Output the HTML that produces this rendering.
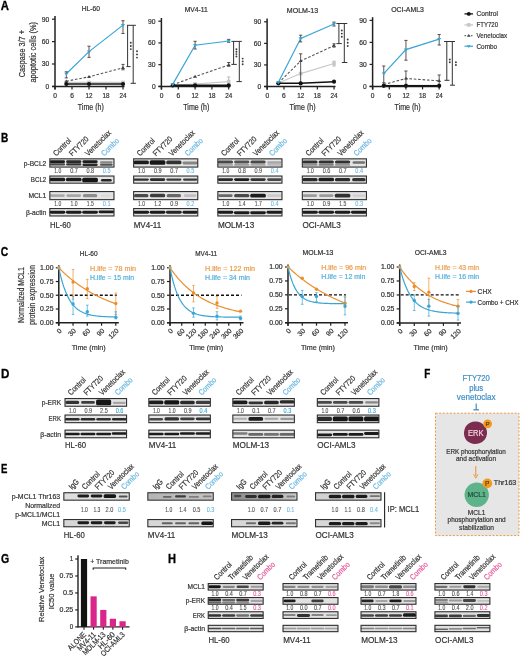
<!DOCTYPE html>
<html><head><meta charset="utf-8"><style>
html,body{margin:0;padding:0;background:#fff;}
svg{display:block;will-change:transform;}
text{font-family:"Liberation Sans",sans-serif;}
</style></head><body>
<svg width="520" height="661" viewBox="0 0 520 661">
<defs><linearGradient id="gE2" x1="0" x2="1" y1="0" y2="0"><stop offset="0" stop-color="#8e8e8e"/><stop offset="0.55" stop-color="#a4a4a4"/><stop offset="1" stop-color="#cfcfcf"/></linearGradient>
<linearGradient id="gE1" x1="0" x2="1" y1="0" y2="0"><stop offset="0" stop-color="#b4b4b4"/><stop offset="1" stop-color="#c4c4c4"/></linearGradient>
<filter id="bb" x="-20%" y="-50%" width="140%" height="200%"><feGaussianBlur stdDeviation="0.75"/></filter></defs>
<rect width="520" height="661" fill="#fff"/>
<text x="0.8" y="10.4" font-size="12" fill="#000" font-weight="bold" textLength="8.2" lengthAdjust="spacingAndGlyphs" stroke="#000" stroke-width="0.3">A</text>
<text x="25.4" y="53.7" font-size="8.3" fill="#333132" text-anchor="middle" textLength="47.2" lengthAdjust="spacingAndGlyphs" transform="rotate(-90 25.4 53.7)" stroke="#333132" stroke-width="0.2">Caspase 3/7 +</text>
<text x="35.6" y="52.3" font-size="8.3" fill="#333132" text-anchor="middle" textLength="60.5" lengthAdjust="spacingAndGlyphs" transform="rotate(-90 35.6 52.3)" stroke="#333132" stroke-width="0.2">apoptotic cells (%)</text>
<line x1="55" y1="16" x2="55" y2="89.6" stroke="#231f20" stroke-width="1.5"/>
<line x1="52" y1="86.4" x2="124.49" y2="86.4" stroke="#231f20" stroke-width="1.5"/>
<line x1="52" y1="86.4" x2="55" y2="86.4" stroke="#231f20" stroke-width="1.2"/>
<text x="49.2" y="88.8" font-size="6.7" fill="#333132" text-anchor="end" textLength="3.7" lengthAdjust="spacingAndGlyphs" stroke="#333132" stroke-width="0.2">0</text>
<line x1="52" y1="64" x2="55" y2="64" stroke="#231f20" stroke-width="1.2"/>
<text x="49.2" y="66.4" font-size="6.7" fill="#333132" text-anchor="end" textLength="7.5" lengthAdjust="spacingAndGlyphs" stroke="#333132" stroke-width="0.2">30</text>
<line x1="52" y1="41.6" x2="55" y2="41.6" stroke="#231f20" stroke-width="1.2"/>
<text x="49.2" y="44" font-size="6.7" fill="#333132" text-anchor="end" textLength="7.5" lengthAdjust="spacingAndGlyphs" stroke="#333132" stroke-width="0.2">60</text>
<line x1="52" y1="19.2" x2="55" y2="19.2" stroke="#231f20" stroke-width="1.2"/>
<text x="49.2" y="21.6" font-size="6.7" fill="#333132" text-anchor="end" textLength="7.5" lengthAdjust="spacingAndGlyphs" stroke="#333132" stroke-width="0.2">90</text>
<line x1="55" y1="86.4" x2="55" y2="89.4" stroke="#231f20" stroke-width="1.2"/>
<text x="55" y="97.9" font-size="6.6" fill="#333132" text-anchor="middle" textLength="3.7" lengthAdjust="spacingAndGlyphs" stroke="#333132" stroke-width="0.2">0</text>
<line x1="72" y1="86.4" x2="72" y2="89.4" stroke="#231f20" stroke-width="1.2"/>
<text x="72" y="97.9" font-size="6.6" fill="#333132" text-anchor="middle" textLength="3.7" lengthAdjust="spacingAndGlyphs" stroke="#333132" stroke-width="0.2">6</text>
<line x1="89" y1="86.4" x2="89" y2="89.4" stroke="#231f20" stroke-width="1.2"/>
<text x="89" y="97.9" font-size="6.6" fill="#333132" text-anchor="middle" textLength="7" lengthAdjust="spacingAndGlyphs" stroke="#333132" stroke-width="0.2">12</text>
<line x1="105.99" y1="86.4" x2="105.99" y2="89.4" stroke="#231f20" stroke-width="1.2"/>
<text x="105.99" y="97.9" font-size="6.6" fill="#333132" text-anchor="middle" textLength="7" lengthAdjust="spacingAndGlyphs" stroke="#333132" stroke-width="0.2">18</text>
<line x1="122.99" y1="86.4" x2="122.99" y2="89.4" stroke="#231f20" stroke-width="1.2"/>
<text x="122.99" y="97.9" font-size="6.6" fill="#333132" text-anchor="middle" textLength="7" lengthAdjust="spacingAndGlyphs" stroke="#333132" stroke-width="0.2">24</text>
<text x="90.8" y="109.6" font-size="8.2" fill="#333132" text-anchor="middle" textLength="26" lengthAdjust="spacingAndGlyphs" stroke="#333132" stroke-width="0.2">Time (h)</text>
<text x="90.8" y="10.6" font-size="6.9" fill="#333132" text-anchor="middle" textLength="18.2" lengthAdjust="spacingAndGlyphs" stroke="#333132" stroke-width="0.2">HL-60</text>
<polyline points="66.33,82.4 89,82.4 122.99,82.4" fill="none" stroke="#c8c8c8" stroke-width="1.1"/>
<rect x="64.53" y="80.6" width="3.6" height="3.6" fill="#c8c8c8"/>
<rect x="87.2" y="80.6" width="3.6" height="3.6" fill="#c8c8c8"/>
<rect x="121.19" y="80.6" width="3.6" height="3.6" fill="#c8c8c8"/>
<polyline points="66.33,81.2 89,76.8 122.99,67.8" fill="none" stroke="#555" stroke-width="1.1" stroke-dasharray="2.6 1.8"/>
<path d="M64.33 82.28L68.33 82.28L66.33 79.4Z" fill="#444"/>
<path d="M87 77.88L91 77.88L89 75Z" fill="#444"/>
<line x1="122.99" y1="64.4" x2="122.99" y2="69.8" stroke="#444" stroke-width="0.9"/>
<line x1="121.39" y1="64.4" x2="124.59" y2="64.4" stroke="#444" stroke-width="0.9"/>
<line x1="121.39" y1="69.8" x2="124.59" y2="69.8" stroke="#444" stroke-width="0.9"/>
<path d="M120.99 68.88L124.99 68.88L122.99 66Z" fill="#444"/>
<polyline points="66.33,84 89,84 122.99,84" fill="none" stroke="#111" stroke-width="1.6"/>
<circle cx="66.33" cy="84" r="2.1" fill="#111"/>
<circle cx="89" cy="84" r="2.1" fill="#111"/>
<circle cx="122.99" cy="84" r="2.1" fill="#111"/>
<polyline points="66.33,73.8 89,51.6 122.99,25.1" fill="none" stroke="#3aa5d5" stroke-width="1.2"/>
<line x1="66.33" y1="71.8" x2="66.33" y2="77.9" stroke="#4a4040" stroke-width="0.9"/>
<line x1="64.73" y1="71.8" x2="67.93" y2="71.8" stroke="#4a4040" stroke-width="0.9"/>
<line x1="64.73" y1="77.9" x2="67.93" y2="77.9" stroke="#4a4040" stroke-width="0.9"/>
<path d="M64.23 72.67L68.43 72.67L66.33 75.69Z" fill="#3aa5d5"/>
<line x1="89" y1="46.2" x2="89" y2="57.4" stroke="#4a4040" stroke-width="0.9"/>
<line x1="87.4" y1="46.2" x2="90.6" y2="46.2" stroke="#4a4040" stroke-width="0.9"/>
<line x1="87.4" y1="57.4" x2="90.6" y2="57.4" stroke="#4a4040" stroke-width="0.9"/>
<path d="M86.9 50.47L91.1 50.47L89 53.49Z" fill="#3aa5d5"/>
<line x1="122.99" y1="20.7" x2="122.99" y2="33.5" stroke="#4a4040" stroke-width="0.9"/>
<line x1="121.39" y1="20.7" x2="124.59" y2="20.7" stroke="#4a4040" stroke-width="0.9"/>
<line x1="121.39" y1="33.5" x2="124.59" y2="33.5" stroke="#4a4040" stroke-width="0.9"/>
<path d="M120.89 23.97L125.09 23.97L122.99 26.99Z" fill="#3aa5d5"/>
<line x1="126.9" y1="25.3" x2="135.9" y2="25.3" stroke="#333" stroke-width="1"/>
<line x1="127.6" y1="25.3" x2="127.6" y2="66.6" stroke="#333" stroke-width="1"/>
<line x1="126.4" y1="66.6" x2="130.6" y2="66.6" stroke="#333" stroke-width="1"/>
<circle cx="130.8" cy="42.8" r="0.95" fill="#3a3a3a"/>
<circle cx="130.8" cy="46" r="0.95" fill="#3a3a3a"/>
<circle cx="130.8" cy="49.1" r="0.95" fill="#3a3a3a"/>
<line x1="133.2" y1="25.3" x2="133.2" y2="83.3" stroke="#333" stroke-width="1"/>
<line x1="130.6" y1="83.3" x2="135.9" y2="83.3" stroke="#333" stroke-width="1"/>
<circle cx="137" cy="51.2" r="0.95" fill="#3a3a3a"/>
<circle cx="137" cy="54.4" r="0.95" fill="#3a3a3a"/>
<circle cx="137" cy="57.6" r="0.95" fill="#3a3a3a"/>
<line x1="161.4" y1="18" x2="161.4" y2="89.6" stroke="#231f20" stroke-width="1.5"/>
<line x1="158.4" y1="86.4" x2="230.2" y2="86.4" stroke="#231f20" stroke-width="1.5"/>
<line x1="158.4" y1="86.4" x2="161.4" y2="86.4" stroke="#231f20" stroke-width="1.2"/>
<text x="155.6" y="88.8" font-size="6.7" fill="#333132" text-anchor="end" textLength="3.7" lengthAdjust="spacingAndGlyphs" stroke="#333132" stroke-width="0.2">0</text>
<line x1="158.4" y1="64.67" x2="161.4" y2="64.67" stroke="#231f20" stroke-width="1.2"/>
<text x="155.6" y="67.07" font-size="6.7" fill="#333132" text-anchor="end" textLength="7.5" lengthAdjust="spacingAndGlyphs" stroke="#333132" stroke-width="0.2">30</text>
<line x1="158.4" y1="42.93" x2="161.4" y2="42.93" stroke="#231f20" stroke-width="1.2"/>
<text x="155.6" y="45.33" font-size="6.7" fill="#333132" text-anchor="end" textLength="7.5" lengthAdjust="spacingAndGlyphs" stroke="#333132" stroke-width="0.2">60</text>
<line x1="158.4" y1="21.2" x2="161.4" y2="21.2" stroke="#231f20" stroke-width="1.2"/>
<text x="155.6" y="23.6" font-size="6.7" fill="#333132" text-anchor="end" textLength="7.5" lengthAdjust="spacingAndGlyphs" stroke="#333132" stroke-width="0.2">90</text>
<line x1="161.5" y1="86.4" x2="161.5" y2="89.4" stroke="#231f20" stroke-width="1.2"/>
<text x="161.5" y="97.9" font-size="6.6" fill="#333132" text-anchor="middle" textLength="3.7" lengthAdjust="spacingAndGlyphs" stroke="#333132" stroke-width="0.2">0</text>
<line x1="178.3" y1="86.4" x2="178.3" y2="89.4" stroke="#231f20" stroke-width="1.2"/>
<text x="178.3" y="97.9" font-size="6.6" fill="#333132" text-anchor="middle" textLength="3.7" lengthAdjust="spacingAndGlyphs" stroke="#333132" stroke-width="0.2">6</text>
<line x1="195.1" y1="86.4" x2="195.1" y2="89.4" stroke="#231f20" stroke-width="1.2"/>
<text x="195.1" y="97.9" font-size="6.6" fill="#333132" text-anchor="middle" textLength="7" lengthAdjust="spacingAndGlyphs" stroke="#333132" stroke-width="0.2">12</text>
<line x1="211.9" y1="86.4" x2="211.9" y2="89.4" stroke="#231f20" stroke-width="1.2"/>
<text x="211.9" y="97.9" font-size="6.6" fill="#333132" text-anchor="middle" textLength="7" lengthAdjust="spacingAndGlyphs" stroke="#333132" stroke-width="0.2">18</text>
<line x1="228.7" y1="86.4" x2="228.7" y2="89.4" stroke="#231f20" stroke-width="1.2"/>
<text x="228.7" y="97.9" font-size="6.6" fill="#333132" text-anchor="middle" textLength="7" lengthAdjust="spacingAndGlyphs" stroke="#333132" stroke-width="0.2">24</text>
<text x="196.3" y="109.6" font-size="8.2" fill="#333132" text-anchor="middle" textLength="26" lengthAdjust="spacingAndGlyphs" stroke="#333132" stroke-width="0.2">Time (h)</text>
<text x="196.3" y="12.3" font-size="6.9" fill="#333132" text-anchor="middle" textLength="23.2" lengthAdjust="spacingAndGlyphs" stroke="#333132" stroke-width="0.2">MV4-11</text>
<polyline points="172.7,85 195.1,84 228.7,81.6" fill="none" stroke="#c8c8c8" stroke-width="1.1"/>
<rect x="170.9" y="83.2" width="3.6" height="3.6" fill="#c8c8c8"/>
<rect x="193.3" y="82.2" width="3.6" height="3.6" fill="#c8c8c8"/>
<line x1="228.7" y1="77" x2="228.7" y2="84.6" stroke="#b0b0b0" stroke-width="0.9"/>
<line x1="227.1" y1="77" x2="230.3" y2="77" stroke="#b0b0b0" stroke-width="0.9"/>
<line x1="227.1" y1="84.6" x2="230.3" y2="84.6" stroke="#b0b0b0" stroke-width="0.9"/>
<rect x="226.9" y="79.8" width="3.6" height="3.6" fill="#c8c8c8"/>
<polyline points="172.7,84.8 195.1,76.6 228.7,65" fill="none" stroke="#555" stroke-width="1.1" stroke-dasharray="2.6 1.8"/>
<path d="M170.7 85.88L174.7 85.88L172.7 83Z" fill="#444"/>
<path d="M193.1 77.68L197.1 77.68L195.1 74.8Z" fill="#444"/>
<line x1="228.7" y1="62.5" x2="228.7" y2="66.3" stroke="#444" stroke-width="0.9"/>
<line x1="227.1" y1="62.5" x2="230.3" y2="62.5" stroke="#444" stroke-width="0.9"/>
<line x1="227.1" y1="66.3" x2="230.3" y2="66.3" stroke="#444" stroke-width="0.9"/>
<path d="M226.7 66.08L230.7 66.08L228.7 63.2Z" fill="#444"/>
<polyline points="172.7,85.4 195.1,85.4 228.7,85.4" fill="none" stroke="#111" stroke-width="1.6"/>
<circle cx="172.7" cy="85.4" r="2.1" fill="#111"/>
<circle cx="195.1" cy="85.4" r="2.1" fill="#111"/>
<circle cx="228.7" cy="85.4" r="2.1" fill="#111"/>
<polyline points="172.7,84.4 195.1,45.2 228.7,41" fill="none" stroke="#3aa5d5" stroke-width="1.2"/>
<path d="M170.6 83.27L174.8 83.27L172.7 86.29Z" fill="#3aa5d5"/>
<line x1="195.1" y1="41.3" x2="195.1" y2="49" stroke="#4a4040" stroke-width="0.9"/>
<line x1="193.5" y1="41.3" x2="196.7" y2="41.3" stroke="#4a4040" stroke-width="0.9"/>
<line x1="193.5" y1="49" x2="196.7" y2="49" stroke="#4a4040" stroke-width="0.9"/>
<path d="M193 44.07L197.2 44.07L195.1 47.09Z" fill="#3aa5d5"/>
<line x1="228.7" y1="39.4" x2="228.7" y2="42.3" stroke="#4a4040" stroke-width="0.9"/>
<line x1="227.1" y1="39.4" x2="230.3" y2="39.4" stroke="#4a4040" stroke-width="0.9"/>
<line x1="227.1" y1="42.3" x2="230.3" y2="42.3" stroke="#4a4040" stroke-width="0.9"/>
<path d="M226.6 39.87L230.8 39.87L228.7 42.89Z" fill="#3aa5d5"/>
<line x1="231.4" y1="41.4" x2="241.8" y2="41.4" stroke="#333" stroke-width="1"/>
<line x1="233.6" y1="41.4" x2="233.6" y2="64.4" stroke="#333" stroke-width="1"/>
<line x1="231.4" y1="64.4" x2="236.8" y2="64.4" stroke="#333" stroke-width="1"/>
<circle cx="236.4" cy="49.3" r="0.95" fill="#3a3a3a"/>
<circle cx="236.4" cy="51.7" r="0.95" fill="#3a3a3a"/>
<circle cx="236.4" cy="54.1" r="0.95" fill="#3a3a3a"/>
<circle cx="236.4" cy="56.5" r="0.95" fill="#3a3a3a"/>
<line x1="239.3" y1="41.4" x2="239.3" y2="81.6" stroke="#333" stroke-width="1"/>
<line x1="236.4" y1="81.6" x2="241.8" y2="81.6" stroke="#333" stroke-width="1"/>
<circle cx="242.7" cy="58.6" r="0.95" fill="#3a3a3a"/>
<circle cx="242.7" cy="61.4" r="0.95" fill="#3a3a3a"/>
<circle cx="242.7" cy="64.2" r="0.95" fill="#3a3a3a"/>
<line x1="267.1" y1="18.6" x2="267.1" y2="89.7" stroke="#231f20" stroke-width="1.5"/>
<line x1="264.1" y1="86.5" x2="335.52" y2="86.5" stroke="#231f20" stroke-width="1.5"/>
<line x1="264.1" y1="86.5" x2="267.1" y2="86.5" stroke="#231f20" stroke-width="1.2"/>
<text x="261.3" y="88.9" font-size="6.7" fill="#333132" text-anchor="end" textLength="3.7" lengthAdjust="spacingAndGlyphs" stroke="#333132" stroke-width="0.2">0</text>
<line x1="264.1" y1="64.93" x2="267.1" y2="64.93" stroke="#231f20" stroke-width="1.2"/>
<text x="261.3" y="67.33" font-size="6.7" fill="#333132" text-anchor="end" textLength="7.5" lengthAdjust="spacingAndGlyphs" stroke="#333132" stroke-width="0.2">30</text>
<line x1="264.1" y1="43.37" x2="267.1" y2="43.37" stroke="#231f20" stroke-width="1.2"/>
<text x="261.3" y="45.77" font-size="6.7" fill="#333132" text-anchor="end" textLength="7.5" lengthAdjust="spacingAndGlyphs" stroke="#333132" stroke-width="0.2">60</text>
<line x1="264.1" y1="21.8" x2="267.1" y2="21.8" stroke="#231f20" stroke-width="1.2"/>
<text x="261.3" y="24.2" font-size="6.7" fill="#333132" text-anchor="end" textLength="7.5" lengthAdjust="spacingAndGlyphs" stroke="#333132" stroke-width="0.2">90</text>
<line x1="267.3" y1="86.5" x2="267.3" y2="89.5" stroke="#231f20" stroke-width="1.2"/>
<text x="267.3" y="98" font-size="6.6" fill="#333132" text-anchor="middle" textLength="3.7" lengthAdjust="spacingAndGlyphs" stroke="#333132" stroke-width="0.2">0</text>
<line x1="283.98" y1="86.5" x2="283.98" y2="89.5" stroke="#231f20" stroke-width="1.2"/>
<text x="283.98" y="98" font-size="6.6" fill="#333132" text-anchor="middle" textLength="3.7" lengthAdjust="spacingAndGlyphs" stroke="#333132" stroke-width="0.2">6</text>
<line x1="300.66" y1="86.5" x2="300.66" y2="89.5" stroke="#231f20" stroke-width="1.2"/>
<text x="300.66" y="98" font-size="6.6" fill="#333132" text-anchor="middle" textLength="7" lengthAdjust="spacingAndGlyphs" stroke="#333132" stroke-width="0.2">12</text>
<line x1="317.34" y1="86.5" x2="317.34" y2="89.5" stroke="#231f20" stroke-width="1.2"/>
<text x="317.34" y="98" font-size="6.6" fill="#333132" text-anchor="middle" textLength="7" lengthAdjust="spacingAndGlyphs" stroke="#333132" stroke-width="0.2">18</text>
<line x1="334.02" y1="86.5" x2="334.02" y2="89.5" stroke="#231f20" stroke-width="1.2"/>
<text x="334.02" y="98" font-size="6.6" fill="#333132" text-anchor="middle" textLength="7" lengthAdjust="spacingAndGlyphs" stroke="#333132" stroke-width="0.2">24</text>
<text x="302.5" y="109.7" font-size="8.2" fill="#333132" text-anchor="middle" textLength="26" lengthAdjust="spacingAndGlyphs" stroke="#333132" stroke-width="0.2">Time (h)</text>
<text x="302.5" y="12.6" font-size="6.9" fill="#333132" text-anchor="middle" textLength="31.4" lengthAdjust="spacingAndGlyphs" stroke="#333132" stroke-width="0.2">MOLM-13</text>
<polyline points="278.42,83 300.66,73.6 334.02,63.5" fill="none" stroke="#c8c8c8" stroke-width="1.1"/>
<rect x="276.62" y="81.2" width="3.6" height="3.6" fill="#c8c8c8"/>
<rect x="298.86" y="71.8" width="3.6" height="3.6" fill="#c8c8c8"/>
<line x1="334.02" y1="61.2" x2="334.02" y2="66" stroke="#b0b0b0" stroke-width="0.9"/>
<line x1="332.42" y1="61.2" x2="335.62" y2="61.2" stroke="#b0b0b0" stroke-width="0.9"/>
<line x1="332.42" y1="66" x2="335.62" y2="66" stroke="#b0b0b0" stroke-width="0.9"/>
<rect x="332.22" y="61.7" width="3.6" height="3.6" fill="#c8c8c8"/>
<polyline points="278.42,83 300.66,61 334.02,45.6" fill="none" stroke="#555" stroke-width="1.1" stroke-dasharray="2.6 1.8"/>
<path d="M276.42 84.08L280.42 84.08L278.42 81.2Z" fill="#444"/>
<line x1="300.66" y1="53.8" x2="300.66" y2="84.6" stroke="#444" stroke-width="0.9"/>
<line x1="299.06" y1="53.8" x2="302.26" y2="53.8" stroke="#444" stroke-width="0.9"/>
<line x1="299.06" y1="84.6" x2="302.26" y2="84.6" stroke="#444" stroke-width="0.9"/>
<path d="M298.66 62.08L302.66 62.08L300.66 59.2Z" fill="#444"/>
<line x1="334.02" y1="43.8" x2="334.02" y2="47.1" stroke="#444" stroke-width="0.9"/>
<line x1="332.42" y1="43.8" x2="335.62" y2="43.8" stroke="#444" stroke-width="0.9"/>
<line x1="332.42" y1="47.1" x2="335.62" y2="47.1" stroke="#444" stroke-width="0.9"/>
<path d="M332.02 46.68L336.02 46.68L334.02 43.8Z" fill="#444"/>
<polyline points="278.42,83.3 300.66,83.3 334.02,81.7" fill="none" stroke="#111" stroke-width="1.6"/>
<circle cx="278.42" cy="83.3" r="2.1" fill="#111"/>
<circle cx="300.66" cy="83.3" r="2.1" fill="#111"/>
<circle cx="334.02" cy="81.7" r="2.1" fill="#111"/>
<polyline points="278.42,82.3 300.66,38.5 334.02,24" fill="none" stroke="#3aa5d5" stroke-width="1.2"/>
<path d="M276.32 81.17L280.52 81.17L278.42 84.19Z" fill="#3aa5d5"/>
<line x1="300.66" y1="35.2" x2="300.66" y2="41.9" stroke="#4a4040" stroke-width="0.9"/>
<line x1="299.06" y1="35.2" x2="302.26" y2="35.2" stroke="#4a4040" stroke-width="0.9"/>
<line x1="299.06" y1="41.9" x2="302.26" y2="41.9" stroke="#4a4040" stroke-width="0.9"/>
<path d="M298.56 37.37L302.76 37.37L300.66 40.39Z" fill="#3aa5d5"/>
<line x1="334.02" y1="22.1" x2="334.02" y2="26" stroke="#4a4040" stroke-width="0.9"/>
<line x1="332.42" y1="22.1" x2="335.62" y2="22.1" stroke="#4a4040" stroke-width="0.9"/>
<line x1="332.42" y1="26" x2="335.62" y2="26" stroke="#4a4040" stroke-width="0.9"/>
<path d="M331.92 22.87L336.12 22.87L334.02 25.89Z" fill="#3aa5d5"/>
<line x1="336.4" y1="23.5" x2="347.3" y2="23.5" stroke="#333" stroke-width="1"/>
<line x1="338.9" y1="23.5" x2="338.9" y2="43.6" stroke="#333" stroke-width="1"/>
<line x1="336.4" y1="43.6" x2="341.8" y2="43.6" stroke="#333" stroke-width="1"/>
<circle cx="341.8" cy="30.5" r="0.95" fill="#3a3a3a"/>
<circle cx="341.8" cy="33.6" r="0.95" fill="#3a3a3a"/>
<circle cx="341.8" cy="36.8" r="0.95" fill="#3a3a3a"/>
<line x1="344.3" y1="23.5" x2="344.3" y2="62.5" stroke="#333" stroke-width="1"/>
<line x1="341.8" y1="62.5" x2="347.3" y2="62.5" stroke="#333" stroke-width="1"/>
<circle cx="347.7" cy="39.5" r="0.95" fill="#3a3a3a"/>
<circle cx="347.7" cy="42.7" r="0.95" fill="#3a3a3a"/>
<circle cx="347.7" cy="46" r="0.95" fill="#3a3a3a"/>
<line x1="372.6" y1="17.2" x2="372.6" y2="89.6" stroke="#231f20" stroke-width="1.5"/>
<line x1="369.6" y1="86.4" x2="440.68" y2="86.4" stroke="#231f20" stroke-width="1.5"/>
<line x1="369.6" y1="86.4" x2="372.6" y2="86.4" stroke="#231f20" stroke-width="1.2"/>
<text x="366.8" y="88.8" font-size="6.7" fill="#333132" text-anchor="end" textLength="3.7" lengthAdjust="spacingAndGlyphs" stroke="#333132" stroke-width="0.2">0</text>
<line x1="369.6" y1="64.4" x2="372.6" y2="64.4" stroke="#231f20" stroke-width="1.2"/>
<text x="366.8" y="66.8" font-size="6.7" fill="#333132" text-anchor="end" textLength="7.5" lengthAdjust="spacingAndGlyphs" stroke="#333132" stroke-width="0.2">30</text>
<line x1="369.6" y1="42.4" x2="372.6" y2="42.4" stroke="#231f20" stroke-width="1.2"/>
<text x="366.8" y="44.8" font-size="6.7" fill="#333132" text-anchor="end" textLength="7.5" lengthAdjust="spacingAndGlyphs" stroke="#333132" stroke-width="0.2">60</text>
<line x1="369.6" y1="20.4" x2="372.6" y2="20.4" stroke="#231f20" stroke-width="1.2"/>
<text x="366.8" y="22.8" font-size="6.7" fill="#333132" text-anchor="end" textLength="7.5" lengthAdjust="spacingAndGlyphs" stroke="#333132" stroke-width="0.2">90</text>
<line x1="372.7" y1="86.4" x2="372.7" y2="89.4" stroke="#231f20" stroke-width="1.2"/>
<text x="372.7" y="97.9" font-size="6.6" fill="#333132" text-anchor="middle" textLength="3.7" lengthAdjust="spacingAndGlyphs" stroke="#333132" stroke-width="0.2">0</text>
<line x1="389.32" y1="86.4" x2="389.32" y2="89.4" stroke="#231f20" stroke-width="1.2"/>
<text x="389.32" y="97.9" font-size="6.6" fill="#333132" text-anchor="middle" textLength="3.7" lengthAdjust="spacingAndGlyphs" stroke="#333132" stroke-width="0.2">6</text>
<line x1="405.94" y1="86.4" x2="405.94" y2="89.4" stroke="#231f20" stroke-width="1.2"/>
<text x="405.94" y="97.9" font-size="6.6" fill="#333132" text-anchor="middle" textLength="7" lengthAdjust="spacingAndGlyphs" stroke="#333132" stroke-width="0.2">12</text>
<line x1="422.56" y1="86.4" x2="422.56" y2="89.4" stroke="#231f20" stroke-width="1.2"/>
<text x="422.56" y="97.9" font-size="6.6" fill="#333132" text-anchor="middle" textLength="7" lengthAdjust="spacingAndGlyphs" stroke="#333132" stroke-width="0.2">18</text>
<line x1="439.18" y1="86.4" x2="439.18" y2="89.4" stroke="#231f20" stroke-width="1.2"/>
<text x="439.18" y="97.9" font-size="6.6" fill="#333132" text-anchor="middle" textLength="7" lengthAdjust="spacingAndGlyphs" stroke="#333132" stroke-width="0.2">24</text>
<text x="407.6" y="109.6" font-size="8.2" fill="#333132" text-anchor="middle" textLength="26" lengthAdjust="spacingAndGlyphs" stroke="#333132" stroke-width="0.2">Time (h)</text>
<text x="407.6" y="11.6" font-size="6.9" fill="#333132" text-anchor="middle" textLength="32.8" lengthAdjust="spacingAndGlyphs" stroke="#333132" stroke-width="0.2">OCI-AML3</text>
<polyline points="383.78,85.4 405.94,85.4 439.18,85.4" fill="none" stroke="#c8c8c8" stroke-width="1.1"/>
<rect x="381.98" y="83.6" width="3.6" height="3.6" fill="#c8c8c8"/>
<rect x="404.14" y="83.6" width="3.6" height="3.6" fill="#c8c8c8"/>
<rect x="437.38" y="83.6" width="3.6" height="3.6" fill="#c8c8c8"/>
<polyline points="383.78,84.5 405.94,78.5 439.18,80.8" fill="none" stroke="#555" stroke-width="1.1" stroke-dasharray="2.6 1.8"/>
<path d="M381.78 85.58L385.78 85.58L383.78 82.7Z" fill="#444"/>
<line x1="405.94" y1="71" x2="405.94" y2="85.6" stroke="#444" stroke-width="0.9"/>
<line x1="404.34" y1="71" x2="407.54" y2="71" stroke="#444" stroke-width="0.9"/>
<line x1="404.34" y1="85.6" x2="407.54" y2="85.6" stroke="#444" stroke-width="0.9"/>
<path d="M403.94 79.58L407.94 79.58L405.94 76.7Z" fill="#444"/>
<line x1="439.18" y1="75" x2="439.18" y2="85.6" stroke="#444" stroke-width="0.9"/>
<line x1="437.58" y1="75" x2="440.78" y2="75" stroke="#444" stroke-width="0.9"/>
<line x1="437.58" y1="85.6" x2="440.78" y2="85.6" stroke="#444" stroke-width="0.9"/>
<path d="M437.18 81.88L441.18 81.88L439.18 79Z" fill="#444"/>
<polyline points="383.78,85.8 405.94,85.8 439.18,85.8" fill="none" stroke="#111" stroke-width="1.6"/>
<circle cx="383.78" cy="85.8" r="2.1" fill="#111"/>
<circle cx="405.94" cy="85.8" r="2.1" fill="#111"/>
<circle cx="439.18" cy="85.8" r="2.1" fill="#111"/>
<polyline points="383.78,73.7 405.94,49.6 439.18,39.1" fill="none" stroke="#3aa5d5" stroke-width="1.2"/>
<line x1="383.78" y1="66" x2="383.78" y2="82.7" stroke="#4a4040" stroke-width="0.9"/>
<line x1="382.18" y1="66" x2="385.38" y2="66" stroke="#4a4040" stroke-width="0.9"/>
<line x1="382.18" y1="82.7" x2="385.38" y2="82.7" stroke="#4a4040" stroke-width="0.9"/>
<path d="M381.68 72.57L385.88 72.57L383.78 75.59Z" fill="#3aa5d5"/>
<line x1="405.94" y1="40.4" x2="405.94" y2="60.2" stroke="#4a4040" stroke-width="0.9"/>
<line x1="404.34" y1="40.4" x2="407.54" y2="40.4" stroke="#4a4040" stroke-width="0.9"/>
<line x1="404.34" y1="60.2" x2="407.54" y2="60.2" stroke="#4a4040" stroke-width="0.9"/>
<path d="M403.84 48.47L408.04 48.47L405.94 51.49Z" fill="#3aa5d5"/>
<line x1="439.18" y1="34.5" x2="439.18" y2="45" stroke="#4a4040" stroke-width="0.9"/>
<line x1="437.58" y1="34.5" x2="440.78" y2="34.5" stroke="#4a4040" stroke-width="0.9"/>
<line x1="437.58" y1="45" x2="440.78" y2="45" stroke="#4a4040" stroke-width="0.9"/>
<path d="M437.08 37.97L441.28 37.97L439.18 40.99Z" fill="#3aa5d5"/>
<line x1="444.1" y1="41.5" x2="455" y2="41.5" stroke="#333" stroke-width="1"/>
<line x1="446.8" y1="41.5" x2="446.8" y2="80.3" stroke="#333" stroke-width="1"/>
<line x1="444.5" y1="80.3" x2="449.5" y2="80.3" stroke="#333" stroke-width="1"/>
<circle cx="449.8" cy="59.5" r="0.95" fill="#3a3a3a"/>
<circle cx="449.8" cy="62.3" r="0.95" fill="#3a3a3a"/>
<line x1="452.3" y1="41.5" x2="452.3" y2="85.2" stroke="#333" stroke-width="1"/>
<line x1="450" y1="85.2" x2="455" y2="85.2" stroke="#333" stroke-width="1"/>
<circle cx="455.9" cy="62.3" r="0.95" fill="#3a3a3a"/>
<circle cx="455.9" cy="65" r="0.95" fill="#3a3a3a"/>
<line x1="464.5" y1="13.9" x2="473" y2="13.9" stroke="#111" stroke-width="1.3"/>
<circle cx="468.8" cy="13.9" r="1.9" fill="#111"/>
<line x1="464.5" y1="24.9" x2="473" y2="24.9" stroke="#c8c8c8" stroke-width="1.3"/>
<rect x="467" y="23.1" width="3.6" height="3.6" fill="#c8c8c8"/>
<line x1="464.5" y1="35.7" x2="473" y2="35.7" stroke="#444" stroke-width="1" stroke-dasharray="1.6 1.6"/>
<path d="M467 36.67L470.6 36.67L468.8 34.08Z" fill="#444"/>
<line x1="464.5" y1="46.2" x2="473" y2="46.2" stroke="#3aa5d5" stroke-width="1.2"/>
<path d="M466.9 45.17L470.7 45.17L468.8 47.91Z" fill="#3aa5d5"/>
<text x="476.5" y="16.4" font-size="7.4" fill="#333132" textLength="21.5" lengthAdjust="spacingAndGlyphs" stroke="#333132" stroke-width="0.2">Control</text>
<text x="476.5" y="27.4" font-size="7.4" fill="#333132" textLength="21.5" lengthAdjust="spacingAndGlyphs" stroke="#333132" stroke-width="0.2">FTY720</text>
<text x="476.5" y="38.2" font-size="7.4" fill="#333132" textLength="30.7" lengthAdjust="spacingAndGlyphs" stroke="#333132" stroke-width="0.2">Venetoclax</text>
<text x="476.5" y="48.7" font-size="7.4" fill="#333132" textLength="20.5" lengthAdjust="spacingAndGlyphs" stroke="#333132" stroke-width="0.2">Combo</text>
<text x="1" y="142.3" font-size="12" fill="#000" font-weight="bold" textLength="7.3" lengthAdjust="spacingAndGlyphs" stroke="#000" stroke-width="0.3">B</text>
<text x="46.3" y="165.55" font-size="7.4" fill="#333132" text-anchor="end" textLength="22.5" lengthAdjust="spacingAndGlyphs" stroke="#333132" stroke-width="0.2">p-BCL2</text>
<text x="46.3" y="182.2" font-size="7.4" fill="#333132" text-anchor="end" textLength="15.5" lengthAdjust="spacingAndGlyphs" stroke="#333132" stroke-width="0.2">BCL2</text>
<text x="46.3" y="198.2" font-size="7.4" fill="#333132" text-anchor="end" textLength="17.9" lengthAdjust="spacingAndGlyphs" stroke="#333132" stroke-width="0.2">MCL1</text>
<text x="46.3" y="214.85" font-size="7.4" fill="#333132" text-anchor="end" textLength="20.3" lengthAdjust="spacingAndGlyphs" stroke="#333132" stroke-width="0.2">β-actin</text>
<text x="56.3" y="156.6" font-size="8" fill="#333132" textLength="21.66" lengthAdjust="spacingAndGlyphs" transform="rotate(-45 56.3 156.6)" stroke="#333132" stroke-width="0.2">Control</text>
<text x="72.3" y="156.6" font-size="8" fill="#333132" textLength="23.9" lengthAdjust="spacingAndGlyphs" transform="rotate(-45 72.3 156.6)" stroke="#333132" stroke-width="0.2">FTY720</text>
<text x="88.3" y="156.6" font-size="8" fill="#333132" textLength="32.88" lengthAdjust="spacingAndGlyphs" transform="rotate(-45 88.3 156.6)" stroke="#333132" stroke-width="0.2">Venetoclax</text>
<text x="104.3" y="156.6" font-size="8" fill="#6bb8e0" textLength="21.66" lengthAdjust="spacingAndGlyphs" transform="rotate(-45 104.3 156.6)" stroke="#6bb8e0" stroke-width="0.2">Combo</text>
<rect x="49.3" y="158.3" width="65.2" height="9.3" fill="#e6e6e6"/>
<rect x="50.3" y="159.3" width="63.2" height="7.3" fill="#e4e4e4"/>
<g filter="url(#bb)">
<rect x="49.83" y="160.2" width="15.24" height="2.9" rx="1.45" fill="#1a1a1a"/>
<rect x="49.83" y="163.28" width="15.24" height="2.32" rx="1.16" fill="#484848"/>
<rect x="66.13" y="160.34" width="15.24" height="2.61" rx="1.3" fill="#292929"/>
<rect x="66.13" y="163.28" width="15.24" height="2.32" rx="1.16" fill="#333333"/>
<rect x="82.43" y="160.2" width="15.24" height="2.9" rx="1.45" fill="#1e1e1e"/>
<rect x="82.43" y="163.5" width="15.24" height="2.61" rx="1.3" fill="#292929"/>
<rect x="100.07" y="161.34" width="12.55" height="1.74" rx="0.87" fill="#868686"/>
<rect x="100.07" y="163.61" width="12.55" height="2.03" rx="1.01" fill="#525252"/>
</g>
<rect x="49.85" y="158.85" width="64.1" height="8.2" fill="none" stroke="#303030" stroke-width="1.1"/>
<rect x="49.3" y="175.5" width="65.2" height="8.2" fill="#e6e6e6"/>
<rect x="50.3" y="176.5" width="63.2" height="6.2" fill="#e4e4e4"/>
<g filter="url(#bb)">
<rect x="49.63" y="177.86" width="15.65" height="3.48" rx="1.5" fill="#1a1a1a"/>
<rect x="65.93" y="177.86" width="15.65" height="3.48" rx="1.5" fill="#1a1a1a"/>
<rect x="82.23" y="177.83" width="15.65" height="4.35" rx="1.5" fill="#141414"/>
<rect x="100.97" y="178.95" width="10.76" height="2.61" rx="1.3" fill="#252525"/>
</g>
<rect x="49.85" y="176.05" width="64.1" height="7.1" fill="none" stroke="#303030" stroke-width="1.1"/>
<rect x="49.3" y="191" width="65.2" height="9.2" fill="#e6e6e6"/>
<rect x="50.3" y="192" width="63.2" height="7.2" fill="#e4e4e4"/>
<g filter="url(#bb)">
<rect x="50.1" y="194.15" width="14.7" height="2.9" rx="1.45" fill="#aaaaaa"/>
<rect x="66.4" y="194.15" width="14.7" height="2.9" rx="1.45" fill="#a6a6a6"/>
<rect x="82.88" y="194" width="14.34" height="3.19" rx="1.5" fill="#8d8d8d"/>
<rect x="100.97" y="194.44" width="10.76" height="2.32" rx="1.16" fill="#dadada"/>
</g>
<rect x="49.85" y="191.55" width="64.1" height="8.1" fill="none" stroke="#303030" stroke-width="1.1"/>
<rect x="49.3" y="208" width="65.2" height="8.5" fill="#e6e6e6"/>
<rect x="50.3" y="209" width="63.2" height="6.5" fill="#e4e4e4"/>
<g filter="url(#bb)">
<rect x="49.63" y="210.8" width="15.65" height="2.9" rx="1.45" fill="#1e1e1e"/>
<rect x="65.93" y="210.8" width="15.65" height="2.9" rx="1.45" fill="#1e1e1e"/>
<rect x="82.23" y="210.8" width="15.65" height="2.9" rx="1.45" fill="#1e1e1e"/>
<rect x="98.53" y="210.38" width="15.65" height="2.9" rx="1.45" fill="#1e1e1e"/>
</g>
<rect x="49.85" y="208.55" width="64.1" height="7.4" fill="none" stroke="#303030" stroke-width="1.1"/>
<text x="57.75" y="173.3" font-size="6.7" fill="#505050" text-anchor="middle" textLength="7" lengthAdjust="spacingAndGlyphs" stroke="#505050" stroke-width="0.12">1.0</text>
<text x="74.05" y="173.3" font-size="6.7" fill="#505050" text-anchor="middle" textLength="7.7" lengthAdjust="spacingAndGlyphs" stroke="#505050" stroke-width="0.12">0.7</text>
<text x="90.35" y="173.3" font-size="6.7" fill="#505050" text-anchor="middle" textLength="7.7" lengthAdjust="spacingAndGlyphs" stroke="#505050" stroke-width="0.12">0.8</text>
<text x="106.65" y="173.3" font-size="6.7" fill="#6bb8e0" text-anchor="middle" textLength="7.7" lengthAdjust="spacingAndGlyphs" stroke="#6bb8e0" stroke-width="0.12">0.5</text>
<text x="57.75" y="206.4" font-size="6.7" fill="#505050" text-anchor="middle" textLength="7" lengthAdjust="spacingAndGlyphs" stroke="#505050" stroke-width="0.12">1.0</text>
<text x="74.05" y="206.4" font-size="6.7" fill="#505050" text-anchor="middle" textLength="7" lengthAdjust="spacingAndGlyphs" stroke="#505050" stroke-width="0.12">1.0</text>
<text x="90.35" y="206.4" font-size="6.7" fill="#505050" text-anchor="middle" textLength="7" lengthAdjust="spacingAndGlyphs" stroke="#505050" stroke-width="0.12">1.5</text>
<text x="106.65" y="206.4" font-size="6.7" fill="#6bb8e0" text-anchor="middle" textLength="7.7" lengthAdjust="spacingAndGlyphs" stroke="#6bb8e0" stroke-width="0.12">0.1</text>
<text x="49.9" y="227.5" font-size="8.5" fill="#333132" textLength="21" lengthAdjust="spacingAndGlyphs" stroke="#333132" stroke-width="0.2">HL-60</text>
<text x="140.1" y="156.6" font-size="8" fill="#333132" textLength="21.66" lengthAdjust="spacingAndGlyphs" transform="rotate(-45 140.1 156.6)" stroke="#333132" stroke-width="0.2">Control</text>
<text x="156.1" y="156.6" font-size="8" fill="#333132" textLength="23.9" lengthAdjust="spacingAndGlyphs" transform="rotate(-45 156.1 156.6)" stroke="#333132" stroke-width="0.2">FTY720</text>
<text x="172.1" y="156.6" font-size="8" fill="#333132" textLength="32.88" lengthAdjust="spacingAndGlyphs" transform="rotate(-45 172.1 156.6)" stroke="#333132" stroke-width="0.2">Venetoclax</text>
<text x="188.1" y="156.6" font-size="8" fill="#6bb8e0" textLength="21.66" lengthAdjust="spacingAndGlyphs" transform="rotate(-45 188.1 156.6)" stroke="#6bb8e0" stroke-width="0.2">Combo</text>
<rect x="133.1" y="158.3" width="65.2" height="9.3" fill="#e6e6e6"/>
<rect x="134.1" y="159.3" width="63.2" height="7.3" fill="#e4e4e4"/>
<g filter="url(#bb)">
<rect x="133.63" y="160.6" width="15.24" height="3.77" rx="1.5" fill="#1e1e1e"/>
<rect x="149.73" y="160.31" width="15.65" height="4.35" rx="1.5" fill="#181818"/>
<rect x="166.23" y="160.6" width="15.24" height="3.77" rx="1.5" fill="#333333"/>
<rect x="182.53" y="161.5" width="15.24" height="2.9" rx="1.45" fill="#868686"/>
</g>
<rect x="133.65" y="158.85" width="64.1" height="8.2" fill="none" stroke="#303030" stroke-width="1.1"/>
<rect x="133.1" y="175.5" width="65.2" height="8.2" fill="#e6e6e6"/>
<rect x="134.1" y="176.5" width="63.2" height="6.2" fill="#e4e4e4"/>
<g filter="url(#bb)">
<rect x="133.63" y="178.44" width="15.24" height="2.32" rx="1.16" fill="#333333"/>
<rect x="149.93" y="178.29" width="15.24" height="2.61" rx="1.3" fill="#292929"/>
<rect x="166.23" y="178.44" width="15.24" height="2.32" rx="1.16" fill="#3e3e3e"/>
<rect x="182.98" y="178.44" width="14.34" height="2.32" rx="1.16" fill="#3e3e3e"/>
</g>
<rect x="133.65" y="176.05" width="64.1" height="7.1" fill="none" stroke="#303030" stroke-width="1.1"/>
<rect x="133.1" y="191" width="65.2" height="9.2" fill="#e6e6e6"/>
<rect x="134.1" y="192" width="63.2" height="7.2" fill="#e4e4e4"/>
<g filter="url(#bb)">
<rect x="134.08" y="194" width="14.34" height="3.19" rx="1.5" fill="#484848"/>
<rect x="149.93" y="193.86" width="15.24" height="3.48" rx="1.5" fill="#3e3e3e"/>
<rect x="166.68" y="194" width="14.34" height="3.19" rx="1.5" fill="#676767"/>
<rect x="183.87" y="194.29" width="12.55" height="2.61" rx="1.3" fill="#bfbfbf"/>
</g>
<rect x="133.65" y="191.55" width="64.1" height="8.1" fill="none" stroke="#303030" stroke-width="1.1"/>
<rect x="133.1" y="208" width="65.2" height="8.5" fill="#e6e6e6"/>
<rect x="134.1" y="209" width="63.2" height="6.5" fill="#e4e4e4"/>
<g filter="url(#bb)">
<rect x="133.43" y="210.8" width="15.65" height="2.9" rx="1.45" fill="#1e1e1e"/>
<rect x="149.73" y="210.8" width="15.65" height="2.9" rx="1.45" fill="#1e1e1e"/>
<rect x="166.03" y="210.8" width="15.65" height="2.9" rx="1.45" fill="#252525"/>
<rect x="182.53" y="210.8" width="15.24" height="2.9" rx="1.45" fill="#1e1e1e"/>
</g>
<rect x="133.65" y="208.55" width="64.1" height="7.4" fill="none" stroke="#303030" stroke-width="1.1"/>
<text x="141.55" y="173.3" font-size="6.7" fill="#505050" text-anchor="middle" textLength="7" lengthAdjust="spacingAndGlyphs" stroke="#505050" stroke-width="0.12">1.0</text>
<text x="157.85" y="173.3" font-size="6.7" fill="#505050" text-anchor="middle" textLength="7.7" lengthAdjust="spacingAndGlyphs" stroke="#505050" stroke-width="0.12">0.9</text>
<text x="174.15" y="173.3" font-size="6.7" fill="#505050" text-anchor="middle" textLength="7.7" lengthAdjust="spacingAndGlyphs" stroke="#505050" stroke-width="0.12">0.7</text>
<text x="190.45" y="173.3" font-size="6.7" fill="#6bb8e0" text-anchor="middle" textLength="7.7" lengthAdjust="spacingAndGlyphs" stroke="#6bb8e0" stroke-width="0.12">0.5</text>
<text x="141.55" y="206.4" font-size="6.7" fill="#505050" text-anchor="middle" textLength="7" lengthAdjust="spacingAndGlyphs" stroke="#505050" stroke-width="0.12">1.0</text>
<text x="157.85" y="206.4" font-size="6.7" fill="#505050" text-anchor="middle" textLength="7" lengthAdjust="spacingAndGlyphs" stroke="#505050" stroke-width="0.12">1.2</text>
<text x="174.15" y="206.4" font-size="6.7" fill="#505050" text-anchor="middle" textLength="7.7" lengthAdjust="spacingAndGlyphs" stroke="#505050" stroke-width="0.12">0.9</text>
<text x="190.45" y="206.4" font-size="6.7" fill="#6bb8e0" text-anchor="middle" textLength="7.7" lengthAdjust="spacingAndGlyphs" stroke="#6bb8e0" stroke-width="0.12">0.2</text>
<text x="133.7" y="227.5" font-size="8.5" fill="#333132" textLength="27.5" lengthAdjust="spacingAndGlyphs" stroke="#333132" stroke-width="0.2">MV4-11</text>
<text x="224.3" y="156.6" font-size="8" fill="#333132" textLength="21.66" lengthAdjust="spacingAndGlyphs" transform="rotate(-45 224.3 156.6)" stroke="#333132" stroke-width="0.2">Control</text>
<text x="240.3" y="156.6" font-size="8" fill="#333132" textLength="23.9" lengthAdjust="spacingAndGlyphs" transform="rotate(-45 240.3 156.6)" stroke="#333132" stroke-width="0.2">FTY720</text>
<text x="256.3" y="156.6" font-size="8" fill="#333132" textLength="32.88" lengthAdjust="spacingAndGlyphs" transform="rotate(-45 256.3 156.6)" stroke="#333132" stroke-width="0.2">Venetoclax</text>
<text x="272.3" y="156.6" font-size="8" fill="#6bb8e0" textLength="21.66" lengthAdjust="spacingAndGlyphs" transform="rotate(-45 272.3 156.6)" stroke="#6bb8e0" stroke-width="0.2">Combo</text>
<rect x="217.3" y="158.3" width="65.2" height="9.3" fill="#e6e6e6"/>
<rect x="218.3" y="159.3" width="63.2" height="7.3" fill="#e4e4e4"/>
<g filter="url(#bb)">
<rect x="217.83" y="160.43" width="15.24" height="3.19" rx="1.5" fill="#484848"/>
<rect x="217.83" y="163.94" width="15.24" height="1.74" rx="0.87" fill="#a6a6a6"/>
<rect x="234.13" y="160.57" width="15.24" height="2.9" rx="1.45" fill="#525252"/>
<rect x="234.13" y="163.94" width="15.24" height="1.74" rx="0.87" fill="#9b9b9b"/>
<rect x="250.43" y="160.43" width="15.24" height="3.19" rx="1.5" fill="#484848"/>
<rect x="250.43" y="163.94" width="15.24" height="1.74" rx="0.87" fill="#a6a6a6"/>
<rect x="267.18" y="161.33" width="14.34" height="2.32" rx="1.16" fill="#a6a6a6"/>
<rect x="267.18" y="163.94" width="14.34" height="1.74" rx="0.87" fill="#bababa"/>
</g>
<rect x="217.85" y="158.85" width="64.1" height="8.2" fill="none" stroke="#303030" stroke-width="1.1"/>
<rect x="217.3" y="175.5" width="65.2" height="8.2" fill="#e6e6e6"/>
<rect x="218.3" y="176.5" width="63.2" height="6.2" fill="#e4e4e4"/>
<g filter="url(#bb)">
<rect x="217.83" y="178.15" width="15.24" height="2.9" rx="1.45" fill="#292929"/>
<rect x="234.13" y="178.15" width="15.24" height="2.9" rx="1.45" fill="#1e1e1e"/>
<rect x="250.43" y="178.15" width="15.24" height="2.9" rx="1.45" fill="#333333"/>
<rect x="267.18" y="178.29" width="14.34" height="2.61" rx="1.3" fill="#484848"/>
</g>
<rect x="217.85" y="176.05" width="64.1" height="7.1" fill="none" stroke="#303030" stroke-width="1.1"/>
<rect x="217.3" y="191" width="65.2" height="9.2" fill="#e6e6e6"/>
<rect x="218.3" y="192" width="63.2" height="7.2" fill="#e4e4e4"/>
<g filter="url(#bb)">
<rect x="218.28" y="194.15" width="14.34" height="2.9" rx="1.45" fill="#676767"/>
<rect x="234.13" y="194" width="15.24" height="3.19" rx="1.5" fill="#484848"/>
<rect x="250.23" y="193.72" width="15.65" height="3.77" rx="1.5" fill="#1e1e1e"/>
<rect x="267.18" y="194.29" width="14.34" height="2.61" rx="1.3" fill="#cbcbcb"/>
</g>
<rect x="217.85" y="191.55" width="64.1" height="8.1" fill="none" stroke="#303030" stroke-width="1.1"/>
<rect x="217.3" y="208" width="65.2" height="8.5" fill="#e6e6e6"/>
<rect x="218.3" y="209" width="63.2" height="6.5" fill="#e4e4e4"/>
<g filter="url(#bb)">
<rect x="217.63" y="210.8" width="15.65" height="2.9" rx="1.45" fill="#1e1e1e"/>
<rect x="233.93" y="211.23" width="15.65" height="2.9" rx="1.45" fill="#1e1e1e"/>
<rect x="250.23" y="211.23" width="15.65" height="2.9" rx="1.45" fill="#1e1e1e"/>
<rect x="266.53" y="210.8" width="15.65" height="2.9" rx="1.45" fill="#1e1e1e"/>
</g>
<rect x="217.85" y="208.55" width="64.1" height="7.4" fill="none" stroke="#303030" stroke-width="1.1"/>
<text x="225.75" y="173.3" font-size="6.7" fill="#505050" text-anchor="middle" textLength="7" lengthAdjust="spacingAndGlyphs" stroke="#505050" stroke-width="0.12">1.0</text>
<text x="242.05" y="173.3" font-size="6.7" fill="#505050" text-anchor="middle" textLength="7.7" lengthAdjust="spacingAndGlyphs" stroke="#505050" stroke-width="0.12">0.8</text>
<text x="258.35" y="173.3" font-size="6.7" fill="#505050" text-anchor="middle" textLength="7.7" lengthAdjust="spacingAndGlyphs" stroke="#505050" stroke-width="0.12">0.9</text>
<text x="274.65" y="173.3" font-size="6.7" fill="#6bb8e0" text-anchor="middle" textLength="7.7" lengthAdjust="spacingAndGlyphs" stroke="#6bb8e0" stroke-width="0.12">0.4</text>
<text x="225.75" y="206.4" font-size="6.7" fill="#505050" text-anchor="middle" textLength="7" lengthAdjust="spacingAndGlyphs" stroke="#505050" stroke-width="0.12">1.0</text>
<text x="242.05" y="206.4" font-size="6.7" fill="#505050" text-anchor="middle" textLength="7" lengthAdjust="spacingAndGlyphs" stroke="#505050" stroke-width="0.12">1.4</text>
<text x="258.35" y="206.4" font-size="6.7" fill="#505050" text-anchor="middle" textLength="7" lengthAdjust="spacingAndGlyphs" stroke="#505050" stroke-width="0.12">1.7</text>
<text x="274.65" y="206.4" font-size="6.7" fill="#6bb8e0" text-anchor="middle" textLength="7.7" lengthAdjust="spacingAndGlyphs" stroke="#6bb8e0" stroke-width="0.12">0.4</text>
<text x="217.9" y="227.5" font-size="8.5" fill="#333132" textLength="36.3" lengthAdjust="spacingAndGlyphs" stroke="#333132" stroke-width="0.2">MOLM-13</text>
<text x="308.8" y="156.6" font-size="8" fill="#333132" textLength="21.66" lengthAdjust="spacingAndGlyphs" transform="rotate(-45 308.8 156.6)" stroke="#333132" stroke-width="0.2">Control</text>
<text x="324.8" y="156.6" font-size="8" fill="#333132" textLength="23.9" lengthAdjust="spacingAndGlyphs" transform="rotate(-45 324.8 156.6)" stroke="#333132" stroke-width="0.2">FTY720</text>
<text x="340.8" y="156.6" font-size="8" fill="#333132" textLength="32.88" lengthAdjust="spacingAndGlyphs" transform="rotate(-45 340.8 156.6)" stroke="#333132" stroke-width="0.2">Venetoclax</text>
<text x="356.8" y="156.6" font-size="8" fill="#6bb8e0" textLength="21.66" lengthAdjust="spacingAndGlyphs" transform="rotate(-45 356.8 156.6)" stroke="#6bb8e0" stroke-width="0.2">Combo</text>
<rect x="301.8" y="158.3" width="65.2" height="9.3" fill="#e6e6e6"/>
<rect x="302.8" y="159.3" width="63.2" height="7.3" fill="#e4e4e4"/>
<g filter="url(#bb)">
<rect x="302.33" y="160.43" width="15.24" height="3.19" rx="1.5" fill="#333333"/>
<rect x="302.33" y="163.94" width="15.24" height="1.74" rx="0.87" fill="#919191"/>
<rect x="318.63" y="160.43" width="15.24" height="3.19" rx="1.5" fill="#333333"/>
<rect x="318.63" y="163.94" width="15.24" height="1.74" rx="0.87" fill="#7c7c7c"/>
<rect x="334.93" y="160.43" width="15.24" height="3.19" rx="1.5" fill="#333333"/>
<rect x="334.93" y="163.94" width="15.24" height="1.74" rx="0.87" fill="#919191"/>
<rect x="352.57" y="161.18" width="12.55" height="2.61" rx="1.3" fill="#727272"/>
</g>
<rect x="302.35" y="158.85" width="64.1" height="8.2" fill="none" stroke="#303030" stroke-width="1.1"/>
<rect x="301.8" y="175.5" width="65.2" height="8.2" fill="#e6e6e6"/>
<rect x="302.8" y="176.5" width="63.2" height="6.2" fill="#e4e4e4"/>
<g filter="url(#bb)">
<rect x="302.33" y="178" width="15.24" height="3.19" rx="1.5" fill="#292929"/>
<rect x="318.43" y="177.86" width="15.65" height="3.48" rx="1.5" fill="#1e1e1e"/>
<rect x="334.93" y="178" width="15.24" height="3.19" rx="1.5" fill="#292929"/>
<rect x="352.13" y="178" width="13.45" height="3.19" rx="1.5" fill="#333333"/>
</g>
<rect x="302.35" y="176.05" width="64.1" height="7.1" fill="none" stroke="#303030" stroke-width="1.1"/>
<rect x="301.8" y="191" width="65.2" height="9.2" fill="#e6e6e6"/>
<rect x="302.8" y="192" width="63.2" height="7.2" fill="#e4e4e4"/>
<g filter="url(#bb)">
<rect x="302.78" y="194.15" width="14.34" height="2.9" rx="1.45" fill="#9b9b9b"/>
<rect x="319.08" y="194.15" width="14.34" height="2.9" rx="1.45" fill="#9b9b9b"/>
<rect x="334.73" y="193.72" width="15.65" height="3.77" rx="1.5" fill="#333333"/>
<rect x="352.57" y="194.44" width="12.55" height="2.32" rx="1.16" fill="#cfcfcf"/>
</g>
<rect x="302.35" y="191.55" width="64.1" height="8.1" fill="none" stroke="#303030" stroke-width="1.1"/>
<rect x="301.8" y="208" width="65.2" height="8.5" fill="#e6e6e6"/>
<rect x="302.8" y="209" width="63.2" height="6.5" fill="#e4e4e4"/>
<g filter="url(#bb)">
<rect x="302.13" y="210.8" width="15.65" height="2.9" rx="1.45" fill="#1e1e1e"/>
<rect x="318.43" y="210.8" width="15.65" height="2.9" rx="1.45" fill="#1e1e1e"/>
<rect x="334.73" y="210.8" width="15.65" height="2.9" rx="1.45" fill="#1e1e1e"/>
<rect x="351.03" y="210.8" width="15.65" height="2.9" rx="1.45" fill="#1e1e1e"/>
</g>
<rect x="302.35" y="208.55" width="64.1" height="7.4" fill="none" stroke="#303030" stroke-width="1.1"/>
<text x="310.25" y="173.3" font-size="6.7" fill="#505050" text-anchor="middle" textLength="7" lengthAdjust="spacingAndGlyphs" stroke="#505050" stroke-width="0.12">1.0</text>
<text x="326.55" y="173.3" font-size="6.7" fill="#505050" text-anchor="middle" textLength="7.7" lengthAdjust="spacingAndGlyphs" stroke="#505050" stroke-width="0.12">0.6</text>
<text x="342.85" y="173.3" font-size="6.7" fill="#505050" text-anchor="middle" textLength="7.7" lengthAdjust="spacingAndGlyphs" stroke="#505050" stroke-width="0.12">0.7</text>
<text x="359.15" y="173.3" font-size="6.7" fill="#6bb8e0" text-anchor="middle" textLength="7.7" lengthAdjust="spacingAndGlyphs" stroke="#6bb8e0" stroke-width="0.12">0.4</text>
<text x="310.25" y="206.4" font-size="6.7" fill="#505050" text-anchor="middle" textLength="7" lengthAdjust="spacingAndGlyphs" stroke="#505050" stroke-width="0.12">1.0</text>
<text x="326.55" y="206.4" font-size="6.7" fill="#505050" text-anchor="middle" textLength="7.7" lengthAdjust="spacingAndGlyphs" stroke="#505050" stroke-width="0.12">0.9</text>
<text x="342.85" y="206.4" font-size="6.7" fill="#505050" text-anchor="middle" textLength="7" lengthAdjust="spacingAndGlyphs" stroke="#505050" stroke-width="0.12">1.5</text>
<text x="359.15" y="206.4" font-size="6.7" fill="#6bb8e0" text-anchor="middle" textLength="7.7" lengthAdjust="spacingAndGlyphs" stroke="#6bb8e0" stroke-width="0.12">0.3</text>
<text x="302.4" y="227.5" font-size="8.5" fill="#333132" textLength="38.3" lengthAdjust="spacingAndGlyphs" stroke="#333132" stroke-width="0.2">OCI-AML3</text>
<text x="0.8" y="255.6" font-size="12" fill="#000" font-weight="bold" textLength="7.5" lengthAdjust="spacingAndGlyphs" stroke="#000" stroke-width="0.3">C</text>
<text x="23.6" y="295" font-size="8.3" fill="#333132" text-anchor="middle" textLength="56" lengthAdjust="spacingAndGlyphs" transform="rotate(-90 23.6 295)" stroke="#333132" stroke-width="0.2">Normalized MCL1</text>
<text x="34.6" y="295" font-size="8.3" fill="#333132" text-anchor="middle" textLength="60" lengthAdjust="spacingAndGlyphs" transform="rotate(-90 34.6 295)" stroke="#333132" stroke-width="0.2">protein expression</text>
<line x1="58.8" y1="265.3" x2="58.8" y2="325.7" stroke="#231f20" stroke-width="1.5"/>
<line x1="55.8" y1="322.7" x2="118.8" y2="322.7" stroke="#231f20" stroke-width="1.5"/>
<line x1="55.8" y1="322.7" x2="58.8" y2="322.7" stroke="#231f20" stroke-width="1.2"/>
<text x="53.5" y="325" font-size="6.6" fill="#333132" text-anchor="end" textLength="13.4" lengthAdjust="spacingAndGlyphs" stroke="#333132" stroke-width="0.2">0.00</text>
<line x1="55.8" y1="308.98" x2="58.8" y2="308.98" stroke="#231f20" stroke-width="1.2"/>
<text x="53.5" y="311.28" font-size="6.6" fill="#333132" text-anchor="end" textLength="13.4" lengthAdjust="spacingAndGlyphs" stroke="#333132" stroke-width="0.2">0.25</text>
<line x1="55.8" y1="295.25" x2="58.8" y2="295.25" stroke="#231f20" stroke-width="1.2"/>
<text x="53.5" y="297.55" font-size="6.6" fill="#333132" text-anchor="end" textLength="13.4" lengthAdjust="spacingAndGlyphs" stroke="#333132" stroke-width="0.2">0.50</text>
<line x1="55.8" y1="281.52" x2="58.8" y2="281.52" stroke="#231f20" stroke-width="1.2"/>
<text x="53.5" y="283.82" font-size="6.6" fill="#333132" text-anchor="end" textLength="13.4" lengthAdjust="spacingAndGlyphs" stroke="#333132" stroke-width="0.2">0.75</text>
<line x1="55.8" y1="267.8" x2="58.8" y2="267.8" stroke="#231f20" stroke-width="1.2"/>
<text x="53.5" y="270.1" font-size="6.6" fill="#333132" text-anchor="end" textLength="13.4" lengthAdjust="spacingAndGlyphs" stroke="#333132" stroke-width="0.2">1.00</text>
<line x1="58.8" y1="322.7" x2="58.8" y2="325.7" stroke="#231f20" stroke-width="1.2"/>
<text x="62.2" y="331.3" font-size="7" fill="#333132" text-anchor="end" textLength="3.8" lengthAdjust="spacingAndGlyphs" transform="rotate(-45 62.2 331.3)" stroke="#333132" stroke-width="0.2">0</text>
<line x1="73.05" y1="322.7" x2="73.05" y2="325.7" stroke="#231f20" stroke-width="1.2"/>
<text x="76.45" y="331.3" font-size="7" fill="#333132" text-anchor="end" textLength="7.6" lengthAdjust="spacingAndGlyphs" transform="rotate(-45 76.45 331.3)" stroke="#333132" stroke-width="0.2">30</text>
<line x1="87.3" y1="322.7" x2="87.3" y2="325.7" stroke="#231f20" stroke-width="1.2"/>
<text x="90.7" y="331.3" font-size="7" fill="#333132" text-anchor="end" textLength="7.6" lengthAdjust="spacingAndGlyphs" transform="rotate(-45 90.7 331.3)" stroke="#333132" stroke-width="0.2">60</text>
<line x1="101.55" y1="322.7" x2="101.55" y2="325.7" stroke="#231f20" stroke-width="1.2"/>
<text x="104.95" y="331.3" font-size="7" fill="#333132" text-anchor="end" textLength="7.6" lengthAdjust="spacingAndGlyphs" transform="rotate(-45 104.95 331.3)" stroke="#333132" stroke-width="0.2">90</text>
<line x1="115.8" y1="322.7" x2="115.8" y2="325.7" stroke="#231f20" stroke-width="1.2"/>
<text x="119.2" y="331.3" font-size="7" fill="#333132" text-anchor="end" textLength="11.4" lengthAdjust="spacingAndGlyphs" transform="rotate(-45 119.2 331.3)" stroke="#333132" stroke-width="0.2">120</text>
<text x="88.7" y="349.7" font-size="8" fill="#333132" text-anchor="middle" textLength="34" lengthAdjust="spacingAndGlyphs" stroke="#333132" stroke-width="0.2">Time (min)</text>
<text x="88.7" y="256" font-size="7" fill="#333132" text-anchor="middle" textLength="17.8" lengthAdjust="spacingAndGlyphs" stroke="#333132" stroke-width="0.2">HL-60</text>
<line x1="59.8" y1="295.25" x2="116.8" y2="295.25" stroke="#111" stroke-width="1.3" stroke-dasharray="3 2"/>
<polyline points="58.8,267.8 59.75,268.77 60.7,269.72 61.65,270.65 62.6,271.57 63.55,272.47 64.5,273.35 65.45,274.22 66.4,275.08 67.35,275.92 68.3,276.74 69.25,277.55 70.2,278.34 71.15,279.13 72.1,279.89 73.05,280.65 74,281.39 74.95,282.12 75.9,282.83 76.85,283.53 77.8,284.22 78.75,284.9 79.7,285.57 80.65,286.22 81.6,286.86 82.55,287.49 83.5,288.12 84.45,288.72 85.4,289.32 86.35,289.91 87.3,290.49 88.25,291.06 89.2,291.61 90.15,292.16 91.1,292.7 92.05,293.23 93,293.75 93.95,294.26 94.9,294.76 95.85,295.25 96.8,295.73 97.75,296.21 98.7,296.68 99.65,297.13 100.6,297.58 101.55,298.03 102.5,298.46 103.45,298.89 104.4,299.31 105.35,299.72 106.3,300.12 107.25,300.52 108.2,300.91 109.15,301.3 110.1,301.67 111.05,302.04 112,302.41 112.95,302.77 113.9,303.12 114.85,303.46 115.8,303.8" fill="none" stroke="#eb8f2c" stroke-width="1.2"/>
<polyline points="58.8,267.8 59.75,272.16 60.7,276.14 61.65,279.76 62.6,283.07 63.55,286.08 64.5,288.83 65.45,291.34 66.4,293.62 67.35,295.7 68.3,297.6 69.25,299.33 70.2,300.91 71.15,302.35 72.1,303.66 73.05,304.86 74,305.95 74.95,306.94 75.9,307.85 76.85,308.67 77.8,309.43 78.75,310.12 79.7,310.74 80.65,311.31 81.6,311.83 82.55,312.31 83.5,312.74 84.45,313.14 85.4,313.49 86.35,313.82 87.3,314.12 88.25,314.39 89.2,314.64 90.15,314.87 91.1,315.08 92.05,315.26 93,315.44 93.95,315.59 94.9,315.74 95.85,315.87 96.8,315.98 97.75,316.09 98.7,316.19 99.65,316.28 100.6,316.36 101.55,316.44 102.5,316.51 103.45,316.57 104.4,316.62 105.35,316.68 106.3,316.72 107.25,316.77 108.2,316.81 109.15,316.84 110.1,316.87 111.05,316.9 112,316.93 112.95,316.96 113.9,316.98 114.85,317 115.8,317.02" fill="none" stroke="#3aa5d5" stroke-width="1.2"/>
<line x1="73.05" y1="269.45" x2="73.05" y2="299.09" stroke="#eb8f2c" stroke-width="0.7"/>
<line x1="71.75" y1="269.45" x2="74.35" y2="269.45" stroke="#eb8f2c" stroke-width="0.7"/>
<line x1="71.75" y1="299.09" x2="74.35" y2="299.09" stroke="#eb8f2c" stroke-width="0.7"/>
<circle cx="73.05" cy="282.07" r="1.7" fill="#eb8f2c"/>
<line x1="87.3" y1="279.33" x2="87.3" y2="298.54" stroke="#eb8f2c" stroke-width="0.7"/>
<line x1="86" y1="279.33" x2="88.6" y2="279.33" stroke="#eb8f2c" stroke-width="0.7"/>
<line x1="86" y1="298.54" x2="88.6" y2="298.54" stroke="#eb8f2c" stroke-width="0.7"/>
<circle cx="87.3" cy="288.66" r="1.7" fill="#eb8f2c"/>
<line x1="115.8" y1="293.05" x2="115.8" y2="314.46" stroke="#eb8f2c" stroke-width="0.7"/>
<line x1="114.5" y1="293.05" x2="117.1" y2="293.05" stroke="#eb8f2c" stroke-width="0.7"/>
<line x1="114.5" y1="314.46" x2="117.1" y2="314.46" stroke="#eb8f2c" stroke-width="0.7"/>
<circle cx="115.8" cy="303.49" r="1.7" fill="#eb8f2c"/>
<line x1="73.05" y1="296.35" x2="73.05" y2="314.46" stroke="#3aa5d5" stroke-width="0.7"/>
<line x1="71.75" y1="296.35" x2="74.35" y2="296.35" stroke="#3aa5d5" stroke-width="0.7"/>
<line x1="71.75" y1="314.46" x2="74.35" y2="314.46" stroke="#3aa5d5" stroke-width="0.7"/>
<circle cx="73.05" cy="304.03" r="1.7" fill="#3aa5d5"/>
<line x1="87.3" y1="305.13" x2="87.3" y2="316.11" stroke="#3aa5d5" stroke-width="0.7"/>
<line x1="86" y1="305.13" x2="88.6" y2="305.13" stroke="#3aa5d5" stroke-width="0.7"/>
<line x1="86" y1="316.11" x2="88.6" y2="316.11" stroke="#3aa5d5" stroke-width="0.7"/>
<circle cx="87.3" cy="311.72" r="1.7" fill="#3aa5d5"/>
<line x1="115.8" y1="311.72" x2="115.8" y2="318.86" stroke="#3aa5d5" stroke-width="0.7"/>
<line x1="114.5" y1="311.72" x2="117.1" y2="311.72" stroke="#3aa5d5" stroke-width="0.7"/>
<line x1="114.5" y1="318.86" x2="117.1" y2="318.86" stroke="#3aa5d5" stroke-width="0.7"/>
<circle cx="115.8" cy="317.21" r="1.7" fill="#3aa5d5"/>
<circle cx="58.8" cy="267.8" r="1.8" fill="#c9a066"/>
<text x="90" y="271.1" font-size="7.2" fill="#ec9c4a" textLength="46" lengthAdjust="spacingAndGlyphs" stroke="#ec9c4a" stroke-width="0.2">H.life = 78 min</text>
<text x="90" y="279.5" font-size="7.2" fill="#52b0dc" textLength="44" lengthAdjust="spacingAndGlyphs" stroke="#52b0dc" stroke-width="0.2">H.life = 15 min</text>
<line x1="170" y1="265.3" x2="170" y2="325.7" stroke="#231f20" stroke-width="1.5"/>
<line x1="167" y1="322.7" x2="243.5" y2="322.7" stroke="#231f20" stroke-width="1.5"/>
<line x1="167" y1="322.7" x2="170" y2="322.7" stroke="#231f20" stroke-width="1.2"/>
<text x="164.7" y="325" font-size="6.6" fill="#333132" text-anchor="end" textLength="13.4" lengthAdjust="spacingAndGlyphs" stroke="#333132" stroke-width="0.2">0.00</text>
<line x1="167" y1="308.98" x2="170" y2="308.98" stroke="#231f20" stroke-width="1.2"/>
<text x="164.7" y="311.28" font-size="6.6" fill="#333132" text-anchor="end" textLength="13.4" lengthAdjust="spacingAndGlyphs" stroke="#333132" stroke-width="0.2">0.25</text>
<line x1="167" y1="295.25" x2="170" y2="295.25" stroke="#231f20" stroke-width="1.2"/>
<text x="164.7" y="297.55" font-size="6.6" fill="#333132" text-anchor="end" textLength="13.4" lengthAdjust="spacingAndGlyphs" stroke="#333132" stroke-width="0.2">0.50</text>
<line x1="167" y1="281.52" x2="170" y2="281.52" stroke="#231f20" stroke-width="1.2"/>
<text x="164.7" y="283.82" font-size="6.6" fill="#333132" text-anchor="end" textLength="13.4" lengthAdjust="spacingAndGlyphs" stroke="#333132" stroke-width="0.2">0.75</text>
<line x1="167" y1="267.8" x2="170" y2="267.8" stroke="#231f20" stroke-width="1.2"/>
<text x="164.7" y="270.1" font-size="6.6" fill="#333132" text-anchor="end" textLength="13.4" lengthAdjust="spacingAndGlyphs" stroke="#333132" stroke-width="0.2">1.00</text>
<line x1="170" y1="322.7" x2="170" y2="325.7" stroke="#231f20" stroke-width="1.2"/>
<text x="173.4" y="331.3" font-size="7" fill="#333132" text-anchor="end" textLength="3.8" lengthAdjust="spacingAndGlyphs" transform="rotate(-45 173.4 331.3)" stroke="#333132" stroke-width="0.2">0</text>
<line x1="181.75" y1="322.7" x2="181.75" y2="325.7" stroke="#231f20" stroke-width="1.2"/>
<text x="185.15" y="331.3" font-size="7" fill="#333132" text-anchor="end" textLength="7.6" lengthAdjust="spacingAndGlyphs" transform="rotate(-45 185.15 331.3)" stroke="#333132" stroke-width="0.2">60</text>
<line x1="193.5" y1="322.7" x2="193.5" y2="325.7" stroke="#231f20" stroke-width="1.2"/>
<text x="196.9" y="331.3" font-size="7" fill="#333132" text-anchor="end" textLength="11.4" lengthAdjust="spacingAndGlyphs" transform="rotate(-45 196.9 331.3)" stroke="#333132" stroke-width="0.2">120</text>
<line x1="205.25" y1="322.7" x2="205.25" y2="325.7" stroke="#231f20" stroke-width="1.2"/>
<text x="208.65" y="331.3" font-size="7" fill="#333132" text-anchor="end" textLength="11.4" lengthAdjust="spacingAndGlyphs" transform="rotate(-45 208.65 331.3)" stroke="#333132" stroke-width="0.2">180</text>
<line x1="217" y1="322.7" x2="217" y2="325.7" stroke="#231f20" stroke-width="1.2"/>
<text x="220.4" y="331.3" font-size="7" fill="#333132" text-anchor="end" textLength="11.4" lengthAdjust="spacingAndGlyphs" transform="rotate(-45 220.4 331.3)" stroke="#333132" stroke-width="0.2">240</text>
<line x1="228.75" y1="322.7" x2="228.75" y2="325.7" stroke="#231f20" stroke-width="1.2"/>
<text x="232.15" y="331.3" font-size="7" fill="#333132" text-anchor="end" textLength="11.4" lengthAdjust="spacingAndGlyphs" transform="rotate(-45 232.15 331.3)" stroke="#333132" stroke-width="0.2">300</text>
<line x1="240.5" y1="322.7" x2="240.5" y2="325.7" stroke="#231f20" stroke-width="1.2"/>
<text x="243.9" y="331.3" font-size="7" fill="#333132" text-anchor="end" textLength="11.4" lengthAdjust="spacingAndGlyphs" transform="rotate(-45 243.9 331.3)" stroke="#333132" stroke-width="0.2">360</text>
<text x="206.2" y="349.7" font-size="8" fill="#333132" text-anchor="middle" textLength="34" lengthAdjust="spacingAndGlyphs" stroke="#333132" stroke-width="0.2">Time (min)</text>
<text x="206.2" y="256" font-size="7" fill="#333132" text-anchor="middle" textLength="21.9" lengthAdjust="spacingAndGlyphs" stroke="#333132" stroke-width="0.2">MV4-11</text>
<line x1="171" y1="295.25" x2="241.5" y2="295.25" stroke="#111" stroke-width="1.3" stroke-dasharray="3 2"/>
<polyline points="170,267.8 171.18,269.49 172.35,271.13 173.53,272.71 174.7,274.24 175.88,275.72 177.05,277.14 178.22,278.52 179.4,279.86 180.57,281.14 181.75,282.39 182.93,283.59 184.1,284.76 185.28,285.88 186.45,286.97 187.62,288.02 188.8,289.03 189.97,290.01 191.15,290.96 192.32,291.88 193.5,292.77 194.68,293.62 195.85,294.45 197.03,295.25 198.2,296.02 199.38,296.77 200.55,297.49 201.72,298.19 202.9,298.86 204.07,299.51 205.25,300.14 206.43,300.75 207.6,301.34 208.78,301.91 209.95,302.46 211.12,302.99 212.3,303.5 213.47,304 214.65,304.48 215.82,304.94 217,305.39 218.18,305.82 219.35,306.24 220.53,306.65 221.7,307.04 222.88,307.42 224.05,307.78 225.22,308.13 226.4,308.47 227.57,308.8 228.75,309.12 229.93,309.43 231.1,309.73 232.28,310.02 233.45,310.29 234.62,310.56 235.8,310.82 236.97,311.07 238.15,311.31 239.32,311.55 240.5,311.78" fill="none" stroke="#eb8f2c" stroke-width="1.2"/>
<polyline points="170,267.8 171.18,273.49 172.35,278.52 173.53,282.98 174.7,286.92 175.88,290.41 177.05,293.49 178.22,296.22 179.4,298.64 180.57,300.78 181.75,302.67 182.93,304.34 184.1,305.82 185.28,307.14 186.45,308.3 187.62,309.32 188.8,310.23 189.97,311.03 191.15,311.74 192.32,312.37 193.5,312.93 194.68,313.42 195.85,313.86 197.03,314.25 198.2,314.59 199.38,314.89 200.55,315.16 201.72,315.39 202.9,315.6 204.07,315.79 205.25,315.95 206.43,316.1 207.6,316.22 208.78,316.34 209.95,316.44 211.12,316.53 212.3,316.61 213.47,316.68 214.65,316.74 215.82,316.79 217,316.84 218.18,316.88 219.35,316.92 220.53,316.95 221.7,316.98 222.88,317.01 224.05,317.03 225.22,317.05 226.4,317.07 227.57,317.09 228.75,317.1 229.93,317.11 231.1,317.12 232.28,317.13 233.45,317.14 234.62,317.15 235.8,317.16 236.97,317.16 238.15,317.17 239.32,317.17 240.5,317.18" fill="none" stroke="#3aa5d5" stroke-width="1.2"/>
<line x1="193.5" y1="285.37" x2="193.5" y2="301.84" stroke="#eb8f2c" stroke-width="0.7"/>
<line x1="192.2" y1="285.37" x2="194.8" y2="285.37" stroke="#eb8f2c" stroke-width="0.7"/>
<line x1="192.2" y1="301.84" x2="194.8" y2="301.84" stroke="#eb8f2c" stroke-width="0.7"/>
<circle cx="193.5" cy="293.05" r="1.7" fill="#eb8f2c"/>
<line x1="217" y1="296.35" x2="217" y2="308.43" stroke="#eb8f2c" stroke-width="0.7"/>
<line x1="215.7" y1="296.35" x2="218.3" y2="296.35" stroke="#eb8f2c" stroke-width="0.7"/>
<line x1="215.7" y1="308.43" x2="218.3" y2="308.43" stroke="#eb8f2c" stroke-width="0.7"/>
<circle cx="217" cy="302.94" r="1.7" fill="#eb8f2c"/>
<circle cx="240.5" cy="311.17" r="1.7" fill="#eb8f2c"/>
<line x1="193.5" y1="307.88" x2="193.5" y2="317.21" stroke="#3aa5d5" stroke-width="0.7"/>
<line x1="192.2" y1="307.88" x2="194.8" y2="307.88" stroke="#3aa5d5" stroke-width="0.7"/>
<line x1="192.2" y1="317.21" x2="194.8" y2="317.21" stroke="#3aa5d5" stroke-width="0.7"/>
<circle cx="193.5" cy="313.37" r="1.7" fill="#3aa5d5"/>
<line x1="217" y1="311.72" x2="217" y2="319.95" stroke="#3aa5d5" stroke-width="0.7"/>
<line x1="215.7" y1="311.72" x2="218.3" y2="311.72" stroke="#3aa5d5" stroke-width="0.7"/>
<line x1="215.7" y1="319.95" x2="218.3" y2="319.95" stroke="#3aa5d5" stroke-width="0.7"/>
<circle cx="217" cy="316.11" r="1.7" fill="#3aa5d5"/>
<line x1="240.5" y1="316.11" x2="240.5" y2="319.95" stroke="#3aa5d5" stroke-width="0.7"/>
<line x1="239.2" y1="316.11" x2="241.8" y2="316.11" stroke="#3aa5d5" stroke-width="0.7"/>
<line x1="239.2" y1="319.95" x2="241.8" y2="319.95" stroke="#3aa5d5" stroke-width="0.7"/>
<circle cx="240.5" cy="318.31" r="1.7" fill="#3aa5d5"/>
<circle cx="170" cy="267.8" r="1.8" fill="#c9a066"/>
<text x="205" y="271.1" font-size="7.2" fill="#ec9c4a" textLength="50" lengthAdjust="spacingAndGlyphs" stroke="#ec9c4a" stroke-width="0.2">H.life = 122 min</text>
<text x="205" y="279.5" font-size="7.2" fill="#52b0dc" textLength="45" lengthAdjust="spacingAndGlyphs" stroke="#52b0dc" stroke-width="0.2">H.life = 34 min</text>
<line x1="288" y1="264.5" x2="288" y2="325.7" stroke="#231f20" stroke-width="1.5"/>
<line x1="285" y1="322.7" x2="348" y2="322.7" stroke="#231f20" stroke-width="1.5"/>
<line x1="285" y1="322.7" x2="288" y2="322.7" stroke="#231f20" stroke-width="1.2"/>
<text x="282.7" y="325" font-size="6.6" fill="#333132" text-anchor="end" textLength="13.4" lengthAdjust="spacingAndGlyphs" stroke="#333132" stroke-width="0.2">0.00</text>
<line x1="285" y1="308.77" x2="288" y2="308.77" stroke="#231f20" stroke-width="1.2"/>
<text x="282.7" y="311.07" font-size="6.6" fill="#333132" text-anchor="end" textLength="13.4" lengthAdjust="spacingAndGlyphs" stroke="#333132" stroke-width="0.2">0.25</text>
<line x1="285" y1="294.85" x2="288" y2="294.85" stroke="#231f20" stroke-width="1.2"/>
<text x="282.7" y="297.15" font-size="6.6" fill="#333132" text-anchor="end" textLength="13.4" lengthAdjust="spacingAndGlyphs" stroke="#333132" stroke-width="0.2">0.50</text>
<line x1="285" y1="280.93" x2="288" y2="280.93" stroke="#231f20" stroke-width="1.2"/>
<text x="282.7" y="283.23" font-size="6.6" fill="#333132" text-anchor="end" textLength="13.4" lengthAdjust="spacingAndGlyphs" stroke="#333132" stroke-width="0.2">0.75</text>
<line x1="285" y1="267" x2="288" y2="267" stroke="#231f20" stroke-width="1.2"/>
<text x="282.7" y="269.3" font-size="6.6" fill="#333132" text-anchor="end" textLength="13.4" lengthAdjust="spacingAndGlyphs" stroke="#333132" stroke-width="0.2">1.00</text>
<line x1="288" y1="322.7" x2="288" y2="325.7" stroke="#231f20" stroke-width="1.2"/>
<text x="291.4" y="331.3" font-size="7" fill="#333132" text-anchor="end" textLength="3.8" lengthAdjust="spacingAndGlyphs" transform="rotate(-45 291.4 331.3)" stroke="#333132" stroke-width="0.2">0</text>
<line x1="302.25" y1="322.7" x2="302.25" y2="325.7" stroke="#231f20" stroke-width="1.2"/>
<text x="305.65" y="331.3" font-size="7" fill="#333132" text-anchor="end" textLength="7.6" lengthAdjust="spacingAndGlyphs" transform="rotate(-45 305.65 331.3)" stroke="#333132" stroke-width="0.2">30</text>
<line x1="316.5" y1="322.7" x2="316.5" y2="325.7" stroke="#231f20" stroke-width="1.2"/>
<text x="319.9" y="331.3" font-size="7" fill="#333132" text-anchor="end" textLength="7.6" lengthAdjust="spacingAndGlyphs" transform="rotate(-45 319.9 331.3)" stroke="#333132" stroke-width="0.2">60</text>
<line x1="330.75" y1="322.7" x2="330.75" y2="325.7" stroke="#231f20" stroke-width="1.2"/>
<text x="334.15" y="331.3" font-size="7" fill="#333132" text-anchor="end" textLength="7.6" lengthAdjust="spacingAndGlyphs" transform="rotate(-45 334.15 331.3)" stroke="#333132" stroke-width="0.2">90</text>
<line x1="345" y1="322.7" x2="345" y2="325.7" stroke="#231f20" stroke-width="1.2"/>
<text x="348.4" y="331.3" font-size="7" fill="#333132" text-anchor="end" textLength="11.4" lengthAdjust="spacingAndGlyphs" transform="rotate(-45 348.4 331.3)" stroke="#333132" stroke-width="0.2">120</text>
<text x="318" y="349.7" font-size="8" fill="#333132" text-anchor="middle" textLength="34" lengthAdjust="spacingAndGlyphs" stroke="#333132" stroke-width="0.2">Time (min)</text>
<text x="318" y="255.2" font-size="7" fill="#333132" text-anchor="middle" textLength="30.8" lengthAdjust="spacingAndGlyphs" stroke="#333132" stroke-width="0.2">MOLM-13</text>
<line x1="289" y1="294.85" x2="346" y2="294.85" stroke="#111" stroke-width="1.3" stroke-dasharray="3 2"/>
<polyline points="288,267 288.95,267.89 289.9,268.78 290.85,269.64 291.8,270.5 292.75,271.35 293.7,272.18 294.65,273 295.6,273.81 296.55,274.6 297.5,275.39 298.45,276.16 299.4,276.93 300.35,277.68 301.3,278.42 302.25,279.15 303.2,279.87 304.15,280.58 305.1,281.28 306.05,281.97 307,282.65 307.95,283.32 308.9,283.98 309.85,284.63 310.8,285.27 311.75,285.9 312.7,286.53 313.65,287.14 314.6,287.75 315.55,288.34 316.5,288.93 317.45,289.51 318.4,290.08 319.35,290.65 320.3,291.2 321.25,291.75 322.2,292.29 323.15,292.82 324.1,293.35 325.05,293.86 326,294.37 326.95,294.87 327.9,295.37 328.85,295.86 329.8,296.34 330.75,296.81 331.7,297.28 332.65,297.74 333.6,298.19 334.55,298.64 335.5,299.08 336.45,299.51 337.4,299.94 338.35,300.36 339.3,300.78 340.25,301.19 341.2,301.6 342.15,301.99 343.1,302.39 344.05,302.77 345,303.15" fill="none" stroke="#eb8f2c" stroke-width="1.2"/>
<polyline points="288,267 288.95,271.01 289.9,274.58 290.85,277.77 291.8,280.6 292.75,283.13 293.7,285.38 294.65,287.39 295.6,289.17 296.55,290.76 297.5,292.18 298.45,293.45 299.4,294.57 300.35,295.57 301.3,296.47 302.25,297.26 303.2,297.97 304.15,298.6 305.1,299.17 306.05,299.67 307,300.11 307.95,300.51 308.9,300.87 309.85,301.18 310.8,301.46 311.75,301.72 312.7,301.94 313.65,302.14 314.6,302.31 315.55,302.47 316.5,302.61 317.45,302.74 318.4,302.85 319.35,302.95 320.3,303.04 321.25,303.12 322.2,303.19 323.15,303.25 324.1,303.31 325.05,303.36 326,303.4 326.95,303.44 327.9,303.47 328.85,303.51 329.8,303.53 330.75,303.56 331.7,303.58 332.65,303.6 333.6,303.62 334.55,303.63 335.5,303.65 336.45,303.66 337.4,303.67 338.35,303.68 339.3,303.69 340.25,303.7 341.2,303.71 342.15,303.71 343.1,303.72 344.05,303.72 345,303.73" fill="none" stroke="#3aa5d5" stroke-width="1.2"/>
<circle cx="302.25" cy="278.14" r="1.7" fill="#eb8f2c"/>
<circle cx="316.5" cy="289.28" r="1.7" fill="#eb8f2c"/>
<line x1="345" y1="297.08" x2="345" y2="307.66" stroke="#eb8f2c" stroke-width="0.7"/>
<line x1="343.7" y1="297.08" x2="346.3" y2="297.08" stroke="#eb8f2c" stroke-width="0.7"/>
<line x1="343.7" y1="307.66" x2="346.3" y2="307.66" stroke="#eb8f2c" stroke-width="0.7"/>
<circle cx="345" cy="303.2" r="1.7" fill="#eb8f2c"/>
<line x1="302.25" y1="290.39" x2="302.25" y2="304.32" stroke="#3aa5d5" stroke-width="0.7"/>
<line x1="300.95" y1="290.39" x2="303.55" y2="290.39" stroke="#3aa5d5" stroke-width="0.7"/>
<line x1="300.95" y1="304.32" x2="303.55" y2="304.32" stroke="#3aa5d5" stroke-width="0.7"/>
<circle cx="302.25" cy="296.52" r="1.7" fill="#3aa5d5"/>
<line x1="316.5" y1="292.62" x2="316.5" y2="301.53" stroke="#3aa5d5" stroke-width="0.7"/>
<line x1="315.2" y1="292.62" x2="317.8" y2="292.62" stroke="#3aa5d5" stroke-width="0.7"/>
<line x1="315.2" y1="301.53" x2="317.8" y2="301.53" stroke="#3aa5d5" stroke-width="0.7"/>
<circle cx="316.5" cy="296.52" r="1.7" fill="#3aa5d5"/>
<line x1="345" y1="295.96" x2="345" y2="314.9" stroke="#3aa5d5" stroke-width="0.7"/>
<line x1="343.7" y1="295.96" x2="346.3" y2="295.96" stroke="#3aa5d5" stroke-width="0.7"/>
<line x1="343.7" y1="314.9" x2="346.3" y2="314.9" stroke="#3aa5d5" stroke-width="0.7"/>
<circle cx="345" cy="305.99" r="1.7" fill="#3aa5d5"/>
<circle cx="288" cy="267" r="1.8" fill="#c9a066"/>
<text x="321.2" y="270.3" font-size="7.2" fill="#ec9c4a" textLength="45" lengthAdjust="spacingAndGlyphs" stroke="#ec9c4a" stroke-width="0.2">H.life = 96 min</text>
<text x="321.2" y="278.7" font-size="7.2" fill="#52b0dc" textLength="44" lengthAdjust="spacingAndGlyphs" stroke="#52b0dc" stroke-width="0.2">H.life = 12 min</text>
<line x1="399.7" y1="264.5" x2="399.7" y2="325.9" stroke="#231f20" stroke-width="1.5"/>
<line x1="396.7" y1="322.9" x2="461" y2="322.9" stroke="#231f20" stroke-width="1.5"/>
<line x1="396.7" y1="322.9" x2="399.7" y2="322.9" stroke="#231f20" stroke-width="1.2"/>
<text x="394.4" y="325.2" font-size="6.6" fill="#333132" text-anchor="end" textLength="13.4" lengthAdjust="spacingAndGlyphs" stroke="#333132" stroke-width="0.2">0.00</text>
<line x1="396.7" y1="308.92" x2="399.7" y2="308.92" stroke="#231f20" stroke-width="1.2"/>
<text x="394.4" y="311.22" font-size="6.6" fill="#333132" text-anchor="end" textLength="13.4" lengthAdjust="spacingAndGlyphs" stroke="#333132" stroke-width="0.2">0.25</text>
<line x1="396.7" y1="294.95" x2="399.7" y2="294.95" stroke="#231f20" stroke-width="1.2"/>
<text x="394.4" y="297.25" font-size="6.6" fill="#333132" text-anchor="end" textLength="13.4" lengthAdjust="spacingAndGlyphs" stroke="#333132" stroke-width="0.2">0.50</text>
<line x1="396.7" y1="280.98" x2="399.7" y2="280.98" stroke="#231f20" stroke-width="1.2"/>
<text x="394.4" y="283.28" font-size="6.6" fill="#333132" text-anchor="end" textLength="13.4" lengthAdjust="spacingAndGlyphs" stroke="#333132" stroke-width="0.2">0.75</text>
<line x1="396.7" y1="267" x2="399.7" y2="267" stroke="#231f20" stroke-width="1.2"/>
<text x="394.4" y="269.3" font-size="6.6" fill="#333132" text-anchor="end" textLength="13.4" lengthAdjust="spacingAndGlyphs" stroke="#333132" stroke-width="0.2">1.00</text>
<line x1="399.7" y1="322.9" x2="399.7" y2="325.9" stroke="#231f20" stroke-width="1.2"/>
<text x="403.1" y="331.5" font-size="7" fill="#333132" text-anchor="end" textLength="3.8" lengthAdjust="spacingAndGlyphs" transform="rotate(-45 403.1 331.5)" stroke="#333132" stroke-width="0.2">0</text>
<line x1="414.27" y1="322.9" x2="414.27" y2="325.9" stroke="#231f20" stroke-width="1.2"/>
<text x="417.67" y="331.5" font-size="7" fill="#333132" text-anchor="end" textLength="7.6" lengthAdjust="spacingAndGlyphs" transform="rotate(-45 417.67 331.5)" stroke="#333132" stroke-width="0.2">30</text>
<line x1="428.85" y1="322.9" x2="428.85" y2="325.9" stroke="#231f20" stroke-width="1.2"/>
<text x="432.25" y="331.5" font-size="7" fill="#333132" text-anchor="end" textLength="7.6" lengthAdjust="spacingAndGlyphs" transform="rotate(-45 432.25 331.5)" stroke="#333132" stroke-width="0.2">60</text>
<line x1="443.43" y1="322.9" x2="443.43" y2="325.9" stroke="#231f20" stroke-width="1.2"/>
<text x="446.82" y="331.5" font-size="7" fill="#333132" text-anchor="end" textLength="7.6" lengthAdjust="spacingAndGlyphs" transform="rotate(-45 446.82 331.5)" stroke="#333132" stroke-width="0.2">90</text>
<line x1="458" y1="322.9" x2="458" y2="325.9" stroke="#231f20" stroke-width="1.2"/>
<text x="461.4" y="331.5" font-size="7" fill="#333132" text-anchor="end" textLength="11.4" lengthAdjust="spacingAndGlyphs" transform="rotate(-45 461.4 331.5)" stroke="#333132" stroke-width="0.2">120</text>
<text x="430.6" y="349.9" font-size="8" fill="#333132" text-anchor="middle" textLength="34" lengthAdjust="spacingAndGlyphs" stroke="#333132" stroke-width="0.2">Time (min)</text>
<text x="430.6" y="255.2" font-size="7" fill="#333132" text-anchor="middle" textLength="31.7" lengthAdjust="spacingAndGlyphs" stroke="#333132" stroke-width="0.2">OCI-AML3</text>
<line x1="400.7" y1="294.95" x2="459" y2="294.95" stroke="#111" stroke-width="1.3" stroke-dasharray="3 2"/>
<polyline points="399.7,267 400.67,268.45 401.64,269.86 402.62,271.23 403.59,272.55 404.56,273.82 405.53,275.06 406.5,276.26 407.47,277.42 408.44,278.54 409.42,279.63 410.39,280.69 411.36,281.71 412.33,282.69 413.3,283.65 414.27,284.58 415.25,285.47 416.22,286.34 417.19,287.18 418.16,288 419.13,288.78 420.11,289.55 421.08,290.29 422.05,291 423.02,291.69 423.99,292.36 424.96,293.01 425.94,293.64 426.91,294.25 427.88,294.84 428.85,295.41 429.82,295.97 430.79,296.5 431.76,297.02 432.74,297.52 433.71,298.01 434.68,298.48 435.65,298.93 436.62,299.37 437.59,299.8 438.57,300.21 439.54,300.62 440.51,301 441.48,301.38 442.45,301.74 443.43,302.09 444.4,302.43 445.37,302.76 446.34,303.08 447.31,303.39 448.28,303.69 449.25,303.98 450.23,304.26 451.2,304.54 452.17,304.8 453.14,305.05 454.11,305.3 455.08,305.54 456.06,305.77 457.03,306 458,306.21" fill="none" stroke="#eb8f2c" stroke-width="1.2"/>
<polyline points="399.7,267 400.67,270.85 401.64,274.38 402.62,277.62 403.59,280.59 404.56,283.31 405.53,285.81 406.5,288.1 407.47,290.2 408.44,292.12 409.42,293.89 410.39,295.51 411.36,296.99 412.33,298.35 413.3,299.6 414.27,300.75 415.25,301.8 416.22,302.76 417.19,303.64 418.16,304.45 419.13,305.2 420.11,305.88 421.08,306.5 422.05,307.07 423.02,307.6 423.99,308.08 424.96,308.52 425.94,308.92 426.91,309.3 427.88,309.64 428.85,309.95 429.82,310.23 430.79,310.5 431.76,310.74 432.74,310.96 433.71,311.16 434.68,311.35 435.65,311.52 436.62,311.67 437.59,311.82 438.57,311.95 439.54,312.07 440.51,312.18 441.48,312.28 442.45,312.37 443.43,312.46 444.4,312.53 445.37,312.61 446.34,312.67 447.31,312.73 448.28,312.79 449.25,312.84 450.23,312.88 451.2,312.93 452.17,312.97 453.14,313 454.11,313.03 455.08,313.06 456.06,313.09 457.03,313.12 458,313.14" fill="none" stroke="#3aa5d5" stroke-width="1.2"/>
<line x1="414.27" y1="282.65" x2="414.27" y2="290.48" stroke="#eb8f2c" stroke-width="0.7"/>
<line x1="412.97" y1="282.65" x2="415.57" y2="282.65" stroke="#eb8f2c" stroke-width="0.7"/>
<line x1="412.97" y1="290.48" x2="415.57" y2="290.48" stroke="#eb8f2c" stroke-width="0.7"/>
<circle cx="414.27" cy="286.56" r="1.7" fill="#eb8f2c"/>
<line x1="428.85" y1="278.18" x2="428.85" y2="306.13" stroke="#eb8f2c" stroke-width="0.7"/>
<line x1="427.55" y1="278.18" x2="430.15" y2="278.18" stroke="#eb8f2c" stroke-width="0.7"/>
<line x1="427.55" y1="306.13" x2="430.15" y2="306.13" stroke="#eb8f2c" stroke-width="0.7"/>
<circle cx="428.85" cy="292.15" r="1.7" fill="#eb8f2c"/>
<line x1="458" y1="299.42" x2="458" y2="313.4" stroke="#eb8f2c" stroke-width="0.7"/>
<line x1="456.7" y1="299.42" x2="459.3" y2="299.42" stroke="#eb8f2c" stroke-width="0.7"/>
<line x1="456.7" y1="313.4" x2="459.3" y2="313.4" stroke="#eb8f2c" stroke-width="0.7"/>
<circle cx="458" cy="306.13" r="1.7" fill="#eb8f2c"/>
<line x1="414.27" y1="294.95" x2="414.27" y2="310.6" stroke="#3aa5d5" stroke-width="0.7"/>
<line x1="412.97" y1="294.95" x2="415.57" y2="294.95" stroke="#3aa5d5" stroke-width="0.7"/>
<line x1="412.97" y1="310.6" x2="415.57" y2="310.6" stroke="#3aa5d5" stroke-width="0.7"/>
<circle cx="414.27" cy="300.54" r="1.7" fill="#3aa5d5"/>
<line x1="428.85" y1="299.42" x2="428.85" y2="316.19" stroke="#3aa5d5" stroke-width="0.7"/>
<line x1="427.55" y1="299.42" x2="430.15" y2="299.42" stroke="#3aa5d5" stroke-width="0.7"/>
<line x1="427.55" y1="316.19" x2="430.15" y2="316.19" stroke="#3aa5d5" stroke-width="0.7"/>
<circle cx="428.85" cy="306.13" r="1.7" fill="#3aa5d5"/>
<line x1="458" y1="306.13" x2="458" y2="320.1" stroke="#3aa5d5" stroke-width="0.7"/>
<line x1="456.7" y1="306.13" x2="459.3" y2="306.13" stroke="#3aa5d5" stroke-width="0.7"/>
<line x1="456.7" y1="320.1" x2="459.3" y2="320.1" stroke="#3aa5d5" stroke-width="0.7"/>
<circle cx="458" cy="313.4" r="1.7" fill="#3aa5d5"/>
<circle cx="399.7" cy="267" r="1.8" fill="#c9a066"/>
<text x="435" y="270.3" font-size="7.2" fill="#ec9c4a" textLength="44" lengthAdjust="spacingAndGlyphs" stroke="#ec9c4a" stroke-width="0.2">H.life = 43 min</text>
<text x="435" y="278.7" font-size="7.2" fill="#52b0dc" textLength="44" lengthAdjust="spacingAndGlyphs" stroke="#52b0dc" stroke-width="0.2">H.life = 16 min</text>
<line x1="466" y1="291.4" x2="476" y2="291.4" stroke="#eb8f2c" stroke-width="1.2"/>
<circle cx="471" cy="291.4" r="1.7" fill="#eb8f2c"/>
<text x="477.6" y="293.9" font-size="7.2" fill="#333132" textLength="14" lengthAdjust="spacingAndGlyphs" stroke="#333132" stroke-width="0.2">CHX</text>
<line x1="466" y1="302.1" x2="476" y2="302.1" stroke="#3aa5d5" stroke-width="1.2"/>
<circle cx="471" cy="302.1" r="1.7" fill="#3aa5d5"/>
<text x="477.6" y="304.6" font-size="7.2" fill="#333132" textLength="41" lengthAdjust="spacingAndGlyphs" stroke="#333132" stroke-width="0.2">Combo + CHX</text>
<text x="1" y="377.8" font-size="12" fill="#000" font-weight="bold" textLength="8.4" lengthAdjust="spacingAndGlyphs" stroke="#000" stroke-width="0.3">D</text>
<text x="61" y="405" font-size="7.4" fill="#333132" text-anchor="end" textLength="19.2" lengthAdjust="spacingAndGlyphs" stroke="#333132" stroke-width="0.2">p-ERK</text>
<text x="61" y="421.45" font-size="7.4" fill="#333132" text-anchor="end" textLength="12.4" lengthAdjust="spacingAndGlyphs" stroke="#333132" stroke-width="0.2">ERK</text>
<text x="61" y="436.55" font-size="7.4" fill="#333132" text-anchor="end" textLength="20.7" lengthAdjust="spacingAndGlyphs" stroke="#333132" stroke-width="0.2">β-actin</text>
<text x="71.1" y="395.8" font-size="8" fill="#333132" textLength="21.66" lengthAdjust="spacingAndGlyphs" transform="rotate(-45 71.1 395.8)" stroke="#333132" stroke-width="0.2">Control</text>
<text x="86.7" y="395.8" font-size="8" fill="#333132" textLength="23.9" lengthAdjust="spacingAndGlyphs" transform="rotate(-45 86.7 395.8)" stroke="#333132" stroke-width="0.2">FTY720</text>
<text x="102.3" y="395.8" font-size="8" fill="#333132" textLength="32.88" lengthAdjust="spacingAndGlyphs" transform="rotate(-45 102.3 395.8)" stroke="#333132" stroke-width="0.2">Venetoclax</text>
<text x="117.9" y="395.8" font-size="8" fill="#6bb8e0" textLength="21.66" lengthAdjust="spacingAndGlyphs" transform="rotate(-45 117.9 395.8)" stroke="#6bb8e0" stroke-width="0.2">Combo</text>
<rect x="64.5" y="398" width="62.6" height="8.8" fill="#e6e6e6"/>
<rect x="65.5" y="399" width="60.6" height="6.8" fill="#e4e4e4"/>
<g filter="url(#bb)">
<rect x="65.44" y="400.8" width="13.77" height="3.19" rx="1.5" fill="#333333"/>
<rect x="81.09" y="400.95" width="13.77" height="2.9" rx="1.45" fill="#3e3e3e"/>
<rect x="96.11" y="399.5" width="15.02" height="5.8" rx="1.5" fill="#141414"/>
<rect x="112.82" y="401.68" width="12.91" height="2.32" rx="1.16" fill="#a6a6a6"/>
</g>
<rect x="65.05" y="398.55" width="61.5" height="7.7" fill="none" stroke="#303030" stroke-width="1.1"/>
<rect x="64.5" y="414.5" width="62.6" height="8.7" fill="#e6e6e6"/>
<rect x="65.5" y="415.5" width="60.6" height="6.7" fill="#e4e4e4"/>
<g filter="url(#bb)">
<rect x="65.01" y="417.98" width="14.63" height="2.61" rx="1.3" fill="#292929"/>
<rect x="80.66" y="417.98" width="14.63" height="2.61" rx="1.3" fill="#292929"/>
<rect x="96.31" y="417.98" width="14.63" height="2.61" rx="1.3" fill="#333333"/>
<rect x="111.96" y="417.98" width="14.63" height="2.61" rx="1.3" fill="#292929"/>
</g>
<rect x="65.05" y="415.05" width="61.5" height="7.6" fill="none" stroke="#303030" stroke-width="1.1"/>
<rect x="64.5" y="429.6" width="62.6" height="8.7" fill="#e6e6e6"/>
<rect x="65.5" y="430.6" width="60.6" height="6.7" fill="#e4e4e4"/>
<g filter="url(#bb)">
<rect x="64.81" y="432.65" width="15.02" height="2.61" rx="1.3" fill="#1e1e1e"/>
<rect x="80.46" y="432.65" width="15.02" height="2.61" rx="1.3" fill="#1e1e1e"/>
<rect x="96.11" y="432.65" width="15.02" height="2.61" rx="1.3" fill="#1e1e1e"/>
<rect x="111.76" y="432.21" width="15.02" height="2.61" rx="1.3" fill="#1e1e1e"/>
</g>
<rect x="65.05" y="430.15" width="61.5" height="7.6" fill="none" stroke="#303030" stroke-width="1.1"/>
<text x="72.62" y="412.8" font-size="6.7" fill="#505050" text-anchor="middle" textLength="7" lengthAdjust="spacingAndGlyphs" stroke="#505050" stroke-width="0.12">1.0</text>
<text x="88.28" y="412.8" font-size="6.7" fill="#505050" text-anchor="middle" textLength="7.7" lengthAdjust="spacingAndGlyphs" stroke="#505050" stroke-width="0.12">0.9</text>
<text x="103.92" y="412.8" font-size="6.7" fill="#505050" text-anchor="middle" textLength="7.7" lengthAdjust="spacingAndGlyphs" stroke="#505050" stroke-width="0.12">2.5</text>
<text x="119.58" y="412.8" font-size="6.7" fill="#3aa5d5" text-anchor="middle" textLength="7.7" lengthAdjust="spacingAndGlyphs" stroke="#3aa5d5" stroke-width="0.12">0.6</text>
<text x="65" y="448" font-size="8.5" fill="#333132" textLength="21" lengthAdjust="spacingAndGlyphs" stroke="#333132" stroke-width="0.2">HL-60</text>
<text x="154.9" y="395.8" font-size="8" fill="#333132" textLength="21.66" lengthAdjust="spacingAndGlyphs" transform="rotate(-45 154.9 395.8)" stroke="#333132" stroke-width="0.2">Control</text>
<text x="170.5" y="395.8" font-size="8" fill="#333132" textLength="23.9" lengthAdjust="spacingAndGlyphs" transform="rotate(-45 170.5 395.8)" stroke="#333132" stroke-width="0.2">FTY720</text>
<text x="186.1" y="395.8" font-size="8" fill="#333132" textLength="32.88" lengthAdjust="spacingAndGlyphs" transform="rotate(-45 186.1 395.8)" stroke="#333132" stroke-width="0.2">Venetoclax</text>
<text x="201.7" y="395.8" font-size="8" fill="#6bb8e0" textLength="21.66" lengthAdjust="spacingAndGlyphs" transform="rotate(-45 201.7 395.8)" stroke="#6bb8e0" stroke-width="0.2">Combo</text>
<rect x="148.3" y="398" width="62.6" height="8.8" fill="#e6e6e6"/>
<rect x="149.3" y="399" width="60.6" height="6.8" fill="#e4e4e4"/>
<g filter="url(#bb)">
<rect x="148.81" y="400.51" width="14.63" height="3.77" rx="1.5" fill="#1e1e1e"/>
<rect x="164.26" y="400.37" width="15.02" height="4.06" rx="1.5" fill="#181818"/>
<rect x="180.11" y="400.66" width="14.63" height="3.48" rx="1.5" fill="#292929"/>
<rect x="195.76" y="400.8" width="14.63" height="3.19" rx="1.5" fill="#3e3e3e"/>
</g>
<rect x="148.85" y="398.55" width="61.5" height="7.7" fill="none" stroke="#303030" stroke-width="1.1"/>
<rect x="148.3" y="414.5" width="62.6" height="8.7" fill="#e6e6e6"/>
<rect x="149.3" y="415.5" width="60.6" height="6.7" fill="#e4e4e4"/>
<g filter="url(#bb)">
<rect x="149.24" y="417.98" width="13.77" height="2.61" rx="1.3" fill="#484848"/>
<rect x="164.46" y="417.25" width="14.63" height="3.19" rx="1.5" fill="#333333"/>
<rect x="180.11" y="417.4" width="14.63" height="2.9" rx="1.45" fill="#3e3e3e"/>
<rect x="195.76" y="417.4" width="14.63" height="2.9" rx="1.45" fill="#333333"/>
</g>
<rect x="148.85" y="415.05" width="61.5" height="7.6" fill="none" stroke="#303030" stroke-width="1.1"/>
<rect x="148.3" y="429.6" width="62.6" height="8.7" fill="#e6e6e6"/>
<rect x="149.3" y="430.6" width="60.6" height="6.7" fill="#e4e4e4"/>
<g filter="url(#bb)">
<rect x="148.61" y="432.65" width="15.02" height="2.61" rx="1.3" fill="#1e1e1e"/>
<rect x="164.26" y="432.65" width="15.02" height="2.61" rx="1.3" fill="#1e1e1e"/>
<rect x="179.91" y="432.21" width="15.02" height="2.61" rx="1.3" fill="#1e1e1e"/>
<rect x="195.56" y="432.21" width="15.02" height="2.61" rx="1.3" fill="#1e1e1e"/>
</g>
<rect x="148.85" y="430.15" width="61.5" height="7.6" fill="none" stroke="#303030" stroke-width="1.1"/>
<text x="156.43" y="412.8" font-size="6.7" fill="#505050" text-anchor="middle" textLength="7" lengthAdjust="spacingAndGlyphs" stroke="#505050" stroke-width="0.12">1.0</text>
<text x="172.08" y="412.8" font-size="6.7" fill="#505050" text-anchor="middle" textLength="7" lengthAdjust="spacingAndGlyphs" stroke="#505050" stroke-width="0.12">1.0</text>
<text x="187.73" y="412.8" font-size="6.7" fill="#505050" text-anchor="middle" textLength="7.7" lengthAdjust="spacingAndGlyphs" stroke="#505050" stroke-width="0.12">0.9</text>
<text x="203.38" y="412.8" font-size="6.7" fill="#3aa5d5" text-anchor="middle" textLength="7.7" lengthAdjust="spacingAndGlyphs" stroke="#3aa5d5" stroke-width="0.12">0.4</text>
<text x="148.8" y="448" font-size="8.5" fill="#333132" textLength="27.5" lengthAdjust="spacingAndGlyphs" stroke="#333132" stroke-width="0.2">MV4-11</text>
<text x="238.9" y="395.8" font-size="8" fill="#333132" textLength="21.66" lengthAdjust="spacingAndGlyphs" transform="rotate(-45 238.9 395.8)" stroke="#333132" stroke-width="0.2">Control</text>
<text x="254.5" y="395.8" font-size="8" fill="#333132" textLength="23.9" lengthAdjust="spacingAndGlyphs" transform="rotate(-45 254.5 395.8)" stroke="#333132" stroke-width="0.2">FTY720</text>
<text x="270.1" y="395.8" font-size="8" fill="#333132" textLength="32.88" lengthAdjust="spacingAndGlyphs" transform="rotate(-45 270.1 395.8)" stroke="#333132" stroke-width="0.2">Venetoclax</text>
<text x="285.7" y="395.8" font-size="8" fill="#6bb8e0" textLength="21.66" lengthAdjust="spacingAndGlyphs" transform="rotate(-45 285.7 395.8)" stroke="#6bb8e0" stroke-width="0.2">Combo</text>
<rect x="232.3" y="398" width="62.6" height="8.8" fill="#e6e6e6"/>
<rect x="233.3" y="399" width="60.6" height="6.8" fill="#e4e4e4"/>
<g filter="url(#bb)">
<rect x="232.81" y="400.51" width="14.63" height="3.77" rx="1.5" fill="#1e1e1e"/>
<rect x="248.46" y="401.39" width="14.63" height="2.9" rx="1.45" fill="#333333"/>
<rect x="264.11" y="400.66" width="14.63" height="3.48" rx="1.5" fill="#252525"/>
<rect x="279.76" y="400.36" width="14.63" height="3.19" rx="1.5" fill="#292929"/>
</g>
<rect x="232.85" y="398.55" width="61.5" height="7.7" fill="none" stroke="#303030" stroke-width="1.1"/>
<rect x="232.3" y="414.5" width="62.6" height="8.7" fill="#e6e6e6"/>
<rect x="233.3" y="415.5" width="60.6" height="6.7" fill="#e4e4e4"/>
<g filter="url(#bb)">
<rect x="233.24" y="417.84" width="13.77" height="2.03" rx="1.01" fill="#b0b0b0"/>
<rect x="248.46" y="416.97" width="14.63" height="3.77" rx="1.5" fill="#1e1e1e"/>
<rect x="264.54" y="417.84" width="13.77" height="2.03" rx="1.01" fill="#a6a6a6"/>
<rect x="280.19" y="417.69" width="13.77" height="2.32" rx="1.16" fill="#9b9b9b"/>
</g>
<rect x="232.85" y="415.05" width="61.5" height="7.6" fill="none" stroke="#303030" stroke-width="1.1"/>
<rect x="232.3" y="429.6" width="62.6" height="8.7" fill="#e6e6e6"/>
<rect x="233.3" y="430.6" width="60.6" height="6.7" fill="#e4e4e4"/>
<g filter="url(#bb)">
<rect x="232.61" y="432.36" width="15.02" height="2.32" rx="1.16" fill="#7c7c7c"/>
<rect x="248.26" y="433.08" width="15.02" height="2.61" rx="1.3" fill="#676767"/>
<rect x="263.91" y="433.08" width="15.02" height="2.61" rx="1.3" fill="#727272"/>
<rect x="279.56" y="433.08" width="15.02" height="2.61" rx="1.3" fill="#676767"/>
</g>
<rect x="232.85" y="430.15" width="61.5" height="7.6" fill="none" stroke="#303030" stroke-width="1.1"/>
<text x="240.43" y="412.8" font-size="6.7" fill="#505050" text-anchor="middle" textLength="7" lengthAdjust="spacingAndGlyphs" stroke="#505050" stroke-width="0.12">1.0</text>
<text x="256.07" y="412.8" font-size="6.7" fill="#505050" text-anchor="middle" textLength="7.7" lengthAdjust="spacingAndGlyphs" stroke="#505050" stroke-width="0.12">0.1</text>
<text x="271.73" y="412.8" font-size="6.7" fill="#505050" text-anchor="middle" textLength="7.7" lengthAdjust="spacingAndGlyphs" stroke="#505050" stroke-width="0.12">0.7</text>
<text x="287.38" y="412.8" font-size="6.7" fill="#3aa5d5" text-anchor="middle" textLength="7.7" lengthAdjust="spacingAndGlyphs" stroke="#3aa5d5" stroke-width="0.12">0.3</text>
<text x="232.8" y="448" font-size="8.5" fill="#333132" textLength="36.3" lengthAdjust="spacingAndGlyphs" stroke="#333132" stroke-width="0.2">MOLM-13</text>
<text x="323.4" y="395.8" font-size="8" fill="#333132" textLength="21.66" lengthAdjust="spacingAndGlyphs" transform="rotate(-45 323.4 395.8)" stroke="#333132" stroke-width="0.2">Control</text>
<text x="339" y="395.8" font-size="8" fill="#333132" textLength="23.9" lengthAdjust="spacingAndGlyphs" transform="rotate(-45 339 395.8)" stroke="#333132" stroke-width="0.2">FTY720</text>
<text x="354.6" y="395.8" font-size="8" fill="#333132" textLength="32.88" lengthAdjust="spacingAndGlyphs" transform="rotate(-45 354.6 395.8)" stroke="#333132" stroke-width="0.2">Venetoclax</text>
<text x="370.2" y="395.8" font-size="8" fill="#6bb8e0" textLength="21.66" lengthAdjust="spacingAndGlyphs" transform="rotate(-45 370.2 395.8)" stroke="#6bb8e0" stroke-width="0.2">Combo</text>
<rect x="316.8" y="398" width="62.6" height="8.8" fill="#e6e6e6"/>
<rect x="317.8" y="399" width="60.6" height="6.8" fill="#e4e4e4"/>
<g filter="url(#bb)">
<rect x="317.31" y="400.95" width="14.63" height="2.9" rx="1.45" fill="#484848"/>
<rect x="332.96" y="400.95" width="14.63" height="2.9" rx="1.45" fill="#484848"/>
<rect x="348.61" y="400.95" width="14.63" height="2.9" rx="1.45" fill="#484848"/>
<rect x="365.12" y="401.24" width="12.91" height="2.32" rx="1.16" fill="#868686"/>
</g>
<rect x="317.35" y="398.55" width="61.5" height="7.7" fill="none" stroke="#303030" stroke-width="1.1"/>
<rect x="316.8" y="414.5" width="62.6" height="8.7" fill="#e6e6e6"/>
<rect x="317.8" y="415.5" width="60.6" height="6.7" fill="#e4e4e4"/>
<g filter="url(#bb)">
<rect x="317.31" y="416.82" width="14.63" height="4.06" rx="1.5" fill="#292929"/>
<rect x="332.76" y="416.39" width="15.02" height="4.93" rx="1.5" fill="#181818"/>
<rect x="348.41" y="416.39" width="15.02" height="4.93" rx="1.5" fill="#181818"/>
<rect x="364.06" y="416.39" width="15.02" height="4.93" rx="1.5" fill="#181818"/>
</g>
<rect x="317.35" y="415.05" width="61.5" height="7.6" fill="none" stroke="#303030" stroke-width="1.1"/>
<rect x="316.8" y="429.6" width="62.6" height="8.7" fill="#e6e6e6"/>
<rect x="317.8" y="430.6" width="60.6" height="6.7" fill="#e4e4e4"/>
<g filter="url(#bb)">
<rect x="317.11" y="433.52" width="15.02" height="2.61" rx="1.3" fill="#1e1e1e"/>
<rect x="332.76" y="433.08" width="15.02" height="2.61" rx="1.3" fill="#1e1e1e"/>
<rect x="348.41" y="433.08" width="15.02" height="2.61" rx="1.3" fill="#1e1e1e"/>
<rect x="364.06" y="432.07" width="15.02" height="2.9" rx="1.45" fill="#1e1e1e"/>
</g>
<rect x="317.35" y="430.15" width="61.5" height="7.6" fill="none" stroke="#303030" stroke-width="1.1"/>
<text x="324.93" y="412.8" font-size="6.7" fill="#505050" text-anchor="middle" textLength="7" lengthAdjust="spacingAndGlyphs" stroke="#505050" stroke-width="0.12">1.0</text>
<text x="340.57" y="412.8" font-size="6.7" fill="#505050" text-anchor="middle" textLength="7.7" lengthAdjust="spacingAndGlyphs" stroke="#505050" stroke-width="0.12">0.7</text>
<text x="356.23" y="412.8" font-size="6.7" fill="#505050" text-anchor="middle" textLength="7.7" lengthAdjust="spacingAndGlyphs" stroke="#505050" stroke-width="0.12">0.6</text>
<text x="371.88" y="412.8" font-size="6.7" fill="#3aa5d5" text-anchor="middle" textLength="7.7" lengthAdjust="spacingAndGlyphs" stroke="#3aa5d5" stroke-width="0.12">0.3</text>
<text x="317.3" y="448" font-size="8.5" fill="#333132" textLength="38.3" lengthAdjust="spacingAndGlyphs" stroke="#333132" stroke-width="0.2">OCI-AML3</text>
<text x="1" y="472.7" font-size="12" fill="#000" font-weight="bold" textLength="6.4" lengthAdjust="spacingAndGlyphs" stroke="#000" stroke-width="0.3">E</text>
<text x="60.2" y="498.7" font-size="7.4" fill="#333132" text-anchor="end" textLength="48.5" lengthAdjust="spacingAndGlyphs" stroke="#333132" stroke-width="0.2">p-MCL1 Thr163</text>
<text x="60.2" y="508" font-size="7.4" fill="#333132" text-anchor="end" textLength="35" lengthAdjust="spacingAndGlyphs" stroke="#333132" stroke-width="0.2">Normalized</text>
<text x="60.2" y="517" font-size="7.4" fill="#333132" text-anchor="end" textLength="45" lengthAdjust="spacingAndGlyphs" stroke="#333132" stroke-width="0.2">p-MCL1/MCL1</text>
<text x="60.2" y="526" font-size="7.4" fill="#333132" text-anchor="end" textLength="18.5" lengthAdjust="spacingAndGlyphs" stroke="#333132" stroke-width="0.2">MCL1</text>
<text x="71.9" y="490" font-size="8" fill="#333132" textLength="10.83" lengthAdjust="spacingAndGlyphs" transform="rotate(-45 71.9 490)" stroke="#333132" stroke-width="0.2">IgG</text>
<text x="85" y="490" font-size="8" fill="#333132" textLength="21.66" lengthAdjust="spacingAndGlyphs" transform="rotate(-45 85 490)" stroke="#333132" stroke-width="0.2">Control</text>
<text x="98.1" y="490" font-size="8" fill="#333132" textLength="23.9" lengthAdjust="spacingAndGlyphs" transform="rotate(-45 98.1 490)" stroke="#333132" stroke-width="0.2">FTY720</text>
<text x="111.2" y="490" font-size="8" fill="#333132" textLength="32.88" lengthAdjust="spacingAndGlyphs" transform="rotate(-45 111.2 490)" stroke="#333132" stroke-width="0.2">Venetoclax</text>
<text x="124.3" y="490" font-size="8" fill="#6bb8e0" textLength="21.66" lengthAdjust="spacingAndGlyphs" transform="rotate(-45 124.3 490)" stroke="#6bb8e0" stroke-width="0.2">Combo</text>
<rect x="63.3" y="492.2" width="66.5" height="8.5" fill="#e6e6e6"/>
<rect x="64.3" y="493.2" width="64.5" height="6.5" fill="#dedede"/>
<g filter="url(#bb)">
<rect x="77.4" y="494.57" width="11.7" height="2.9" rx="1.45" fill="#1e1e1e"/>
<rect x="90.7" y="494.57" width="11.7" height="2.9" rx="1.45" fill="#1e1e1e"/>
<rect x="103.63" y="494.14" width="12.44" height="3.77" rx="1.5" fill="#141414"/>
<rect x="118.76" y="495.44" width="8.78" height="2.03" rx="1.01" fill="#515151"/>
</g>
<rect x="63.85" y="492.75" width="65.4" height="7.4" fill="none" stroke="#303030" stroke-width="1.1"/>
<rect x="63.3" y="519" width="66.5" height="8.3" fill="#e6e6e6"/>
<rect x="64.3" y="520" width="64.5" height="6.3" fill="#d7d7d7"/>
<g filter="url(#bb)">
<rect x="77.4" y="521.28" width="11.7" height="2.9" rx="1.45" fill="#1e1e1e"/>
<rect x="90.7" y="521.28" width="11.7" height="2.9" rx="1.45" fill="#1e1e1e"/>
<rect x="104" y="521.28" width="11.7" height="2.9" rx="1.45" fill="#1e1e1e"/>
<rect x="118.03" y="521.58" width="10.24" height="2.32" rx="1.16" fill="#454545"/>
</g>
<rect x="63.85" y="519.55" width="65.4" height="7.2" fill="none" stroke="#303030" stroke-width="1.1"/>
<text x="84.4" y="512.4" font-size="6.7" fill="#505050" text-anchor="middle" textLength="7" lengthAdjust="spacingAndGlyphs" stroke="#505050" stroke-width="0.12">1.0</text>
<text x="96.9" y="512.4" font-size="6.7" fill="#505050" text-anchor="middle" textLength="7" lengthAdjust="spacingAndGlyphs" stroke="#505050" stroke-width="0.12">1.3</text>
<text x="109.4" y="512.4" font-size="6.7" fill="#505050" text-anchor="middle" textLength="7.7" lengthAdjust="spacingAndGlyphs" stroke="#505050" stroke-width="0.12">2.0</text>
<text x="121.9" y="512.4" font-size="6.7" fill="#6bb8e0" text-anchor="middle" textLength="7.7" lengthAdjust="spacingAndGlyphs" stroke="#6bb8e0" stroke-width="0.12">0.5</text>
<text x="63.8" y="538" font-size="8.5" fill="#333132" textLength="21" lengthAdjust="spacingAndGlyphs" stroke="#333132" stroke-width="0.2">HL-60</text>
<text x="155.9" y="490" font-size="8" fill="#333132" textLength="10.83" lengthAdjust="spacingAndGlyphs" transform="rotate(-45 155.9 490)" stroke="#333132" stroke-width="0.2">IgG</text>
<text x="169" y="490" font-size="8" fill="#333132" textLength="21.66" lengthAdjust="spacingAndGlyphs" transform="rotate(-45 169 490)" stroke="#333132" stroke-width="0.2">Control</text>
<text x="182.1" y="490" font-size="8" fill="#333132" textLength="23.9" lengthAdjust="spacingAndGlyphs" transform="rotate(-45 182.1 490)" stroke="#333132" stroke-width="0.2">FTY720</text>
<text x="195.2" y="490" font-size="8" fill="#333132" textLength="32.88" lengthAdjust="spacingAndGlyphs" transform="rotate(-45 195.2 490)" stroke="#333132" stroke-width="0.2">Venetoclax</text>
<text x="208.3" y="490" font-size="8" fill="#6bb8e0" textLength="21.66" lengthAdjust="spacingAndGlyphs" transform="rotate(-45 208.3 490)" stroke="#6bb8e0" stroke-width="0.2">Combo</text>
<rect x="147.3" y="492.2" width="66.5" height="8.5" fill="#e6e6e6"/>
<rect x="148.3" y="493.2" width="64.5" height="6.5" fill="url(#gE1)"/>
<g filter="url(#bb)">
<rect x="162.86" y="496" width="8.78" height="1.74" rx="0.87" fill="#666666"/>
<rect x="175.06" y="495.29" width="10.97" height="2.32" rx="1.16" fill="#3d3d3d"/>
<rect x="188.73" y="496" width="10.24" height="1.74" rx="0.87" fill="#7f7f7f"/>
<rect x="202.76" y="495.58" width="8.78" height="1.74" rx="0.87" fill="#7f7f7f"/>
</g>
<rect x="147.85" y="492.75" width="65.4" height="7.4" fill="none" stroke="#303030" stroke-width="1.1"/>
<rect x="147.3" y="519" width="66.5" height="8.3" fill="#e6e6e6"/>
<rect x="148.3" y="520" width="64.5" height="6.3" fill="#d7d7d7"/>
<g filter="url(#bb)">
<rect x="161.76" y="522.13" width="10.97" height="2.03" rx="1.01" fill="#626262"/>
<rect x="175.06" y="522.13" width="10.97" height="2.03" rx="1.01" fill="#626262"/>
<rect x="188.36" y="522.13" width="10.97" height="2.03" rx="1.01" fill="#626262"/>
<rect x="201.3" y="521.41" width="11.7" height="3.48" rx="1.5" fill="#181818"/>
</g>
<rect x="147.85" y="519.55" width="65.4" height="7.2" fill="none" stroke="#303030" stroke-width="1.1"/>
<text x="168.8" y="512.4" font-size="6.7" fill="#505050" text-anchor="middle" textLength="7" lengthAdjust="spacingAndGlyphs" stroke="#505050" stroke-width="0.12">1.0</text>
<text x="182.7" y="512.4" font-size="6.7" fill="#505050" text-anchor="middle" textLength="7" lengthAdjust="spacingAndGlyphs" stroke="#505050" stroke-width="0.12">1.4</text>
<text x="196.6" y="512.4" font-size="6.7" fill="#505050" text-anchor="middle" textLength="7.7" lengthAdjust="spacingAndGlyphs" stroke="#505050" stroke-width="0.12">0.5</text>
<text x="210.5" y="512.4" font-size="6.7" fill="#6bb8e0" text-anchor="middle" textLength="7.7" lengthAdjust="spacingAndGlyphs" stroke="#6bb8e0" stroke-width="0.12">0.3</text>
<text x="147.8" y="538" font-size="8.5" fill="#333132" textLength="27.5" lengthAdjust="spacingAndGlyphs" stroke="#333132" stroke-width="0.2">MV4-11</text>
<text x="239.6" y="490" font-size="8" fill="#333132" textLength="10.83" lengthAdjust="spacingAndGlyphs" transform="rotate(-45 239.6 490)" stroke="#333132" stroke-width="0.2">IgG</text>
<text x="252.7" y="490" font-size="8" fill="#333132" textLength="21.66" lengthAdjust="spacingAndGlyphs" transform="rotate(-45 252.7 490)" stroke="#333132" stroke-width="0.2">Control</text>
<text x="265.8" y="490" font-size="8" fill="#333132" textLength="23.9" lengthAdjust="spacingAndGlyphs" transform="rotate(-45 265.8 490)" stroke="#333132" stroke-width="0.2">FTY720</text>
<text x="278.9" y="490" font-size="8" fill="#333132" textLength="32.88" lengthAdjust="spacingAndGlyphs" transform="rotate(-45 278.9 490)" stroke="#333132" stroke-width="0.2">Venetoclax</text>
<text x="292" y="490" font-size="8" fill="#6bb8e0" textLength="21.66" lengthAdjust="spacingAndGlyphs" transform="rotate(-45 292 490)" stroke="#6bb8e0" stroke-width="0.2">Combo</text>
<rect x="231" y="492.2" width="66.5" height="8.5" fill="#e6e6e6"/>
<rect x="232" y="493.2" width="64.5" height="6.5" fill="url(#gE2)"/>
<g filter="url(#bb)">
<rect x="233.99" y="494.86" width="7.32" height="2.32" rx="1.16" fill="#484848"/>
<rect x="245.1" y="495" width="11.7" height="2.9" rx="1.45" fill="#2e2e2e"/>
<rect x="258.03" y="494.71" width="12.44" height="3.48" rx="1.5" fill="#1a1a1a"/>
<rect x="271.7" y="494.85" width="11.7" height="3.19" rx="1.5" fill="#212121"/>
<rect x="286.46" y="495.44" width="8.78" height="2.03" rx="1.01" fill="#7c7c7c"/>
</g>
<rect x="231.55" y="492.75" width="65.4" height="7.4" fill="none" stroke="#303030" stroke-width="1.1"/>
<rect x="231" y="519" width="66.5" height="8.3" fill="#e6e6e6"/>
<rect x="232" y="520" width="64.5" height="6.3" fill="#d7d7d7"/>
<g filter="url(#bb)">
<rect x="245.83" y="522.13" width="10.24" height="2.03" rx="1.01" fill="#6c6c6c"/>
<rect x="258.03" y="521.41" width="12.44" height="3.48" rx="1.5" fill="#1e1e1e"/>
<rect x="271.7" y="521.7" width="11.7" height="2.9" rx="1.45" fill="#282828"/>
<rect x="285.73" y="522.13" width="10.24" height="2.03" rx="1.01" fill="#767676"/>
</g>
<rect x="231.55" y="519.55" width="65.4" height="7.2" fill="none" stroke="#303030" stroke-width="1.1"/>
<text x="251.2" y="512.4" font-size="6.7" fill="#505050" text-anchor="middle" textLength="7" lengthAdjust="spacingAndGlyphs" stroke="#505050" stroke-width="0.12">1.0</text>
<text x="264.3" y="512.4" font-size="6.7" fill="#505050" text-anchor="middle" textLength="7.7" lengthAdjust="spacingAndGlyphs" stroke="#505050" stroke-width="0.12">0.7</text>
<text x="277.4" y="512.4" font-size="6.7" fill="#505050" text-anchor="middle" textLength="7.7" lengthAdjust="spacingAndGlyphs" stroke="#505050" stroke-width="0.12">0.7</text>
<text x="290.5" y="512.4" font-size="6.7" fill="#6bb8e0" text-anchor="middle" textLength="7.7" lengthAdjust="spacingAndGlyphs" stroke="#6bb8e0" stroke-width="0.12">0.1</text>
<text x="231.5" y="538" font-size="8.5" fill="#333132" textLength="36.3" lengthAdjust="spacingAndGlyphs" stroke="#333132" stroke-width="0.2">MOLM-13</text>
<text x="323.6" y="490" font-size="8" fill="#333132" textLength="10.83" lengthAdjust="spacingAndGlyphs" transform="rotate(-45 323.6 490)" stroke="#333132" stroke-width="0.2">IgG</text>
<text x="336.7" y="490" font-size="8" fill="#333132" textLength="21.66" lengthAdjust="spacingAndGlyphs" transform="rotate(-45 336.7 490)" stroke="#333132" stroke-width="0.2">Control</text>
<text x="349.8" y="490" font-size="8" fill="#333132" textLength="23.9" lengthAdjust="spacingAndGlyphs" transform="rotate(-45 349.8 490)" stroke="#333132" stroke-width="0.2">FTY720</text>
<text x="362.9" y="490" font-size="8" fill="#333132" textLength="32.88" lengthAdjust="spacingAndGlyphs" transform="rotate(-45 362.9 490)" stroke="#333132" stroke-width="0.2">Venetoclax</text>
<text x="376" y="490" font-size="8" fill="#6bb8e0" textLength="21.66" lengthAdjust="spacingAndGlyphs" transform="rotate(-45 376 490)" stroke="#6bb8e0" stroke-width="0.2">Combo</text>
<rect x="315" y="492.2" width="66.5" height="8.5" fill="#e6e6e6"/>
<rect x="316" y="493.2" width="64.5" height="6.5" fill="#d2d2d2"/>
<g filter="url(#bb)">
<rect x="328.73" y="494.71" width="12.44" height="3.48" rx="1.5" fill="#1a1a1a"/>
<rect x="342.03" y="494.71" width="12.44" height="3.48" rx="1.5" fill="#1a1a1a"/>
<rect x="355.7" y="494.85" width="11.7" height="3.19" rx="1.5" fill="#1e1e1e"/>
<rect x="369.73" y="495.15" width="10.24" height="1.74" rx="0.87" fill="#737373"/>
</g>
<rect x="315.55" y="492.75" width="65.4" height="7.4" fill="none" stroke="#303030" stroke-width="1.1"/>
<rect x="315" y="519" width="66.5" height="8.3" fill="#e6e6e6"/>
<rect x="316" y="520" width="64.5" height="6.3" fill="#d7d7d7"/>
<g filter="url(#bb)">
<rect x="328.73" y="521.97" width="12.44" height="3.19" rx="1.5" fill="#1e1e1e"/>
<rect x="342.03" y="521.97" width="12.44" height="3.19" rx="1.5" fill="#1e1e1e"/>
<rect x="355.33" y="521.97" width="12.44" height="3.19" rx="1.5" fill="#1e1e1e"/>
<rect x="369.73" y="522.13" width="10.24" height="2.03" rx="1.01" fill="#898989"/>
</g>
<rect x="315.55" y="519.55" width="65.4" height="7.2" fill="none" stroke="#303030" stroke-width="1.1"/>
<text x="334.9" y="512.4" font-size="6.7" fill="#505050" text-anchor="middle" textLength="7" lengthAdjust="spacingAndGlyphs" stroke="#505050" stroke-width="0.12">1.0</text>
<text x="347.9" y="512.4" font-size="6.7" fill="#505050" text-anchor="middle" textLength="7" lengthAdjust="spacingAndGlyphs" stroke="#505050" stroke-width="0.12">1.1</text>
<text x="360.9" y="512.4" font-size="6.7" fill="#505050" text-anchor="middle" textLength="7.7" lengthAdjust="spacingAndGlyphs" stroke="#505050" stroke-width="0.12">0.8</text>
<text x="373.9" y="512.4" font-size="6.7" fill="#6bb8e0" text-anchor="middle" textLength="7.7" lengthAdjust="spacingAndGlyphs" stroke="#6bb8e0" stroke-width="0.12">0.4</text>
<text x="315.5" y="538" font-size="8.5" fill="#333132" textLength="38.3" lengthAdjust="spacingAndGlyphs" stroke="#333132" stroke-width="0.2">OCI-AML3</text>
<line x1="384.6" y1="492.2" x2="384.6" y2="527.6" stroke="#222" stroke-width="1.1"/>
<text x="387.6" y="512.4" font-size="8.4" fill="#333132" textLength="31.6" lengthAdjust="spacingAndGlyphs" stroke="#333132" stroke-width="0.2">IP: MCL1</text>
<text x="424.3" y="377.8" font-size="12" fill="#000" font-weight="bold" textLength="6.1" lengthAdjust="spacingAndGlyphs" stroke="#000" stroke-width="0.3">F</text>
<text x="476.2" y="381" font-size="8.4" fill="#3f8fc6" text-anchor="middle" textLength="27.2" lengthAdjust="spacingAndGlyphs" stroke="#3f8fc6" stroke-width="0.2">FTY720</text>
<text x="476.2" y="390.6" font-size="8.4" fill="#3f8fc6" text-anchor="middle" textLength="14" lengthAdjust="spacingAndGlyphs" stroke="#3f8fc6" stroke-width="0.2">plus</text>
<text x="476.2" y="400" font-size="8.4" fill="#3f8fc6" text-anchor="middle" textLength="38.7" lengthAdjust="spacingAndGlyphs" stroke="#3f8fc6" stroke-width="0.2">venetoclax</text>
<line x1="476.2" y1="403.4" x2="476.2" y2="409.8" stroke="#3f8fc6" stroke-width="1.2"/>
<line x1="473.4" y1="409.8" x2="479" y2="409.8" stroke="#3f8fc6" stroke-width="1.3"/>
<rect x="435.5" y="413.2" width="83.5" height="122.4" fill="#e7e6e6" stroke="#eb8f2c" stroke-width="0.9" stroke-dasharray="2 1.6"/>
<path d="M475 421.5 C482 421 487.5 427 487 433.5 C486.5 440 481 444 475 444 C468.5 444 463.5 439 464 432.5 C464.5 426 468.5 422 475 421.5Z" fill="#7c2c4f"/>
<text x="475.8" y="436" font-size="8.2" fill="#f2d6e0" text-anchor="middle" textLength="15.5" lengthAdjust="spacingAndGlyphs" stroke="#f2d6e0" stroke-width="0.2">ERK</text>
<circle cx="487.6" cy="423.8" r="4.4" fill="#f29a1f"/>
<text x="487.6" y="426.2" font-size="6.2" fill="#5a3a10" text-anchor="middle" stroke="#5a3a10" stroke-width="0.2">P</text>
<text x="476" y="453.6" font-size="7.3" fill="#333132" text-anchor="middle" textLength="59.5" lengthAdjust="spacingAndGlyphs" stroke="#333132" stroke-width="0.2">ERK phosphorylation</text>
<text x="476" y="461.1" font-size="7.3" fill="#333132" text-anchor="middle" textLength="40" lengthAdjust="spacingAndGlyphs" stroke="#333132" stroke-width="0.2">and activation</text>
<line x1="475.8" y1="466" x2="475.8" y2="476" stroke="#eb8f2c" stroke-width="1"/>
<path d="M473.6 474.2 L475.8 478.2 L478 474.2" fill="none" stroke="#eb8f2c" stroke-width="0.9"/>
<circle cx="476.7" cy="494.8" r="12.2" fill="#5fb38a"/>
<text x="476.7" y="497.4" font-size="7.2" fill="#1f4a36" text-anchor="middle" textLength="18.5" lengthAdjust="spacingAndGlyphs" stroke="#1f4a36" stroke-width="0.2">MCL1</text>
<circle cx="487.3" cy="483.4" r="4.9" fill="#f29a1f"/>
<text x="487.3" y="485.9" font-size="6.6" fill="#5a3a10" text-anchor="middle" stroke="#5a3a10" stroke-width="0.2">P</text>
<text x="493.8" y="485.4" font-size="7.3" fill="#333132" textLength="22.5" lengthAdjust="spacingAndGlyphs" stroke="#333132" stroke-width="0.2">Thr163</text>
<text x="476.6" y="515.2" font-size="7.3" fill="#333132" text-anchor="middle" textLength="17.5" lengthAdjust="spacingAndGlyphs" stroke="#333132" stroke-width="0.2">MCL1</text>
<text x="476.6" y="522.4" font-size="7.3" fill="#333132" text-anchor="middle" textLength="58" lengthAdjust="spacingAndGlyphs" stroke="#333132" stroke-width="0.2">phosphorylation and</text>
<text x="476.6" y="530.4" font-size="7.3" fill="#333132" text-anchor="middle" textLength="35" lengthAdjust="spacingAndGlyphs" stroke="#333132" stroke-width="0.2">stabilization</text>
<text x="1" y="562.7" font-size="12" fill="#000" font-weight="bold" textLength="8.2" lengthAdjust="spacingAndGlyphs" stroke="#000" stroke-width="0.3">G</text>
<line x1="78" y1="555.2" x2="78" y2="627.6" stroke="#231f20" stroke-width="1.4"/>
<line x1="78" y1="626.9" x2="129.5" y2="626.9" stroke="#231f20" stroke-width="1.4"/>
<line x1="75.2" y1="559" x2="78" y2="559" stroke="#231f20" stroke-width="1.2"/>
<text x="73.2" y="561.3" font-size="6.6" fill="#333132" text-anchor="end" textLength="3.4" lengthAdjust="spacingAndGlyphs" stroke="#333132" stroke-width="0.2">1</text>
<line x1="75.2" y1="575.98" x2="78" y2="575.98" stroke="#231f20" stroke-width="1.2"/>
<text x="73.2" y="578.27" font-size="6.6" fill="#333132" text-anchor="end" textLength="13.6" lengthAdjust="spacingAndGlyphs" stroke="#333132" stroke-width="0.2">0.75</text>
<line x1="75.2" y1="592.95" x2="78" y2="592.95" stroke="#231f20" stroke-width="1.2"/>
<text x="73.2" y="595.25" font-size="6.6" fill="#333132" text-anchor="end" textLength="10.2" lengthAdjust="spacingAndGlyphs" stroke="#333132" stroke-width="0.2">0.5</text>
<line x1="75.2" y1="609.92" x2="78" y2="609.92" stroke="#231f20" stroke-width="1.2"/>
<text x="73.2" y="612.22" font-size="6.6" fill="#333132" text-anchor="end" textLength="13.6" lengthAdjust="spacingAndGlyphs" stroke="#333132" stroke-width="0.2">0.25</text>
<line x1="75.2" y1="626.9" x2="78" y2="626.9" stroke="#231f20" stroke-width="1.2"/>
<text x="73.2" y="629.2" font-size="6.6" fill="#333132" text-anchor="end" textLength="3.4" lengthAdjust="spacingAndGlyphs" stroke="#333132" stroke-width="0.2">0</text>
<rect x="80.9" y="559" width="6.2" height="67.9" fill="#111"/>
<rect x="90.5" y="596.35" width="6.2" height="30.55" fill="#d9268a"/>
<rect x="100.2" y="609.92" width="6.2" height="16.98" fill="#d9268a"/>
<rect x="109.8" y="618.75" width="6.2" height="8.15" fill="#d9268a"/>
<rect x="119.5" y="621.26" width="6.2" height="5.64" fill="#d9268a"/>
<line x1="84" y1="626.9" x2="84" y2="629.7" stroke="#231f20" stroke-width="1.1"/>
<line x1="93.6" y1="626.9" x2="93.6" y2="629.7" stroke="#231f20" stroke-width="1.1"/>
<line x1="103.3" y1="626.9" x2="103.3" y2="629.7" stroke="#231f20" stroke-width="1.1"/>
<line x1="112.9" y1="626.9" x2="112.9" y2="629.7" stroke="#231f20" stroke-width="1.1"/>
<line x1="122.6" y1="626.9" x2="122.6" y2="629.7" stroke="#231f20" stroke-width="1.1"/>
<text x="90.2" y="564.2" font-size="7.9" fill="#333132" textLength="38.6" lengthAdjust="spacingAndGlyphs" stroke="#333132" stroke-width="0.2">+ Trametinib</text>
<line x1="92.7" y1="568" x2="126.2" y2="568" stroke="#222" stroke-width="1.2"/>
<line x1="93.2" y1="568" x2="93.2" y2="569.8" stroke="#222" stroke-width="1"/>
<line x1="125.7" y1="568" x2="125.7" y2="569.8" stroke="#222" stroke-width="1"/>
<text x="86.7" y="635.1" font-size="7.8" fill="#333132" text-anchor="end" textLength="22.5" lengthAdjust="spacingAndGlyphs" transform="rotate(-45 86.7 635.1)" stroke="#333132" stroke-width="0.2">ALONE</text>
<text x="96.3" y="635.1" font-size="7.8" fill="#333132" text-anchor="end" textLength="23" lengthAdjust="spacingAndGlyphs" transform="rotate(-45 96.3 635.1)" stroke="#333132" stroke-width="0.2">MV4-11</text>
<text x="106" y="635.1" font-size="7.8" fill="#333132" text-anchor="end" textLength="29" lengthAdjust="spacingAndGlyphs" transform="rotate(-45 106 635.1)" stroke="#333132" stroke-width="0.2">MOLM-13</text>
<text x="115.6" y="635.1" font-size="7.8" fill="#333132" text-anchor="end" textLength="20.5" lengthAdjust="spacingAndGlyphs" transform="rotate(-45 115.6 635.1)" stroke="#333132" stroke-width="0.2">HL-60</text>
<text x="125.3" y="635.1" font-size="7.8" fill="#333132" text-anchor="end" textLength="30.5" lengthAdjust="spacingAndGlyphs" transform="rotate(-45 125.3 635.1)" stroke="#333132" stroke-width="0.2">OCI-AML3</text>
<text x="43.6" y="589.3" font-size="8" fill="#333132" text-anchor="middle" textLength="65.3" lengthAdjust="spacingAndGlyphs" transform="rotate(-90 43.6 589.3)" stroke="#333132" stroke-width="0.2">Relative Venetoclax</text>
<text x="53.8" y="591.5" font-size="8" fill="#333132" text-anchor="middle" textLength="35.7" lengthAdjust="spacingAndGlyphs" transform="rotate(-90 53.8 591.5)" stroke="#333132" stroke-width="0.2">IC50 value</text>
<text x="168" y="562.7" font-size="12" fill="#000" font-weight="bold" textLength="8" lengthAdjust="spacingAndGlyphs" stroke="#000" stroke-width="0.3">H</text>
<text x="205" y="589.3" font-size="7.4" fill="#333132" text-anchor="end" textLength="17.6" lengthAdjust="spacingAndGlyphs" stroke="#333132" stroke-width="0.2">MCL1</text>
<text x="205" y="603.4" font-size="7.4" fill="#333132" text-anchor="end" textLength="19.2" lengthAdjust="spacingAndGlyphs" stroke="#333132" stroke-width="0.2">p-ERK</text>
<text x="205" y="617.6" font-size="7.4" fill="#333132" text-anchor="end" textLength="12.2" lengthAdjust="spacingAndGlyphs" stroke="#333132" stroke-width="0.2">ERK</text>
<text x="205" y="631" font-size="7.4" fill="#333132" text-anchor="end" textLength="20.7" lengthAdjust="spacingAndGlyphs" stroke="#333132" stroke-width="0.2">β-actin</text>
<text x="217.1" y="580.4" font-size="8" fill="#333132" textLength="21.66" lengthAdjust="spacingAndGlyphs" transform="rotate(-45 217.1 580.4)" stroke="#333132" stroke-width="0.2">Control</text>
<text x="231.5" y="580.4" font-size="8" fill="#333132" textLength="31.49" lengthAdjust="spacingAndGlyphs" transform="rotate(-45 231.5 580.4)" stroke="#333132" stroke-width="0.2">Trametinib</text>
<text x="245.9" y="580.4" font-size="8" fill="#333132" textLength="32.88" lengthAdjust="spacingAndGlyphs" transform="rotate(-45 245.9 580.4)" stroke="#333132" stroke-width="0.2">Venetoclax</text>
<text x="260.3" y="580.4" font-size="8" fill="#e25a9e" textLength="21.66" lengthAdjust="spacingAndGlyphs" transform="rotate(-45 260.3 580.4)" stroke="#e25a9e" stroke-width="0.2">Combo</text>
<rect x="207.7" y="583" width="56" height="7.6" fill="#e6e6e6"/>
<rect x="208.7" y="584" width="54" height="5.6" fill="#e0e0e0"/>
<g filter="url(#bb)">
<rect x="208.54" y="585.35" width="12.32" height="2.9" rx="1.45" fill="#181818"/>
<rect x="222.54" y="585.64" width="12.32" height="2.32" rx="1.16" fill="#848484"/>
<rect x="236.54" y="585.5" width="12.32" height="2.61" rx="1.3" fill="#474747"/>
<rect x="250.54" y="585.78" width="12.32" height="2.03" rx="1.01" fill="#999999"/>
</g>
<rect x="208.25" y="583.55" width="54.9" height="6.5" fill="none" stroke="#303030" stroke-width="1.1"/>
<rect x="207.7" y="597" width="56" height="7.8" fill="#e6e6e6"/>
<rect x="208.7" y="598" width="54" height="5.8" fill="#e0e0e0"/>
<g filter="url(#bb)">
<rect x="208.16" y="598.43" width="13.09" height="2.61" rx="1.3" fill="#282828"/>
<rect x="208.16" y="601.3" width="13.09" height="2.32" rx="1.16" fill="#666666"/>
<rect x="222.16" y="598.96" width="13.09" height="2.32" rx="1.16" fill="#666666"/>
<rect x="222.16" y="601.45" width="13.09" height="2.03" rx="1.01" fill="#848484"/>
<rect x="236.16" y="598.67" width="13.09" height="2.9" rx="1.45" fill="#3d3d3d"/>
<rect x="236.16" y="601.45" width="13.09" height="2.03" rx="1.01" fill="#8e8e8e"/>
<rect x="250.54" y="599.74" width="12.32" height="2.32" rx="1.16" fill="#a3a3a3"/>
</g>
<rect x="208.25" y="597.55" width="54.9" height="6.7" fill="none" stroke="#303030" stroke-width="1.1"/>
<rect x="207.7" y="611.2" width="56" height="7.8" fill="#e6e6e6"/>
<rect x="208.7" y="612.2" width="54" height="5.8" fill="#e0e0e0"/>
<g filter="url(#bb)">
<rect x="208.16" y="614.19" width="13.09" height="2.61" rx="1.3" fill="#333333"/>
<rect x="222.16" y="614.19" width="13.09" height="2.61" rx="1.3" fill="#3d3d3d"/>
<rect x="236.16" y="614.33" width="13.09" height="2.32" rx="1.16" fill="#707070"/>
<rect x="250.16" y="614.19" width="13.09" height="2.61" rx="1.3" fill="#3d3d3d"/>
</g>
<rect x="208.25" y="611.75" width="54.9" height="6.7" fill="none" stroke="#303030" stroke-width="1.1"/>
<rect x="207.7" y="624.8" width="56" height="7.4" fill="#e6e6e6"/>
<rect x="208.7" y="625.8" width="54" height="5.4" fill="#e0e0e0"/>
<g filter="url(#bb)">
<rect x="207.98" y="627.63" width="13.44" height="1.74" rx="0.87" fill="#474747"/>
<rect x="221.98" y="627.63" width="13.44" height="1.74" rx="0.87" fill="#666666"/>
<rect x="235.98" y="627.63" width="13.44" height="1.74" rx="0.87" fill="#666666"/>
<rect x="249.98" y="627.63" width="13.44" height="1.74" rx="0.87" fill="#5b5b5b"/>
</g>
<rect x="208.25" y="625.35" width="54.9" height="6.3" fill="none" stroke="#303030" stroke-width="1.1"/>
<text x="215" y="595.6" font-size="6.7" fill="#505050" text-anchor="middle" textLength="7" lengthAdjust="spacingAndGlyphs" stroke="#505050" stroke-width="0.12">1.0</text>
<text x="229" y="595.6" font-size="6.7" fill="#505050" text-anchor="middle" textLength="7.7" lengthAdjust="spacingAndGlyphs" stroke="#505050" stroke-width="0.12">0.4</text>
<text x="243" y="595.6" font-size="6.7" fill="#505050" text-anchor="middle" textLength="7.7" lengthAdjust="spacingAndGlyphs" stroke="#505050" stroke-width="0.12">0.7</text>
<text x="257" y="595.6" font-size="6.7" fill="#e25a9e" text-anchor="middle" textLength="7.7" lengthAdjust="spacingAndGlyphs" stroke="#e25a9e" stroke-width="0.12">0.3</text>
<text x="215" y="610.4" font-size="6.7" fill="#505050" text-anchor="middle" textLength="7" lengthAdjust="spacingAndGlyphs" stroke="#505050" stroke-width="0.12">1.0</text>
<text x="229" y="610.4" font-size="6.7" fill="#505050" text-anchor="middle" textLength="7.7" lengthAdjust="spacingAndGlyphs" stroke="#505050" stroke-width="0.12">0.4</text>
<text x="243" y="610.4" font-size="6.7" fill="#505050" text-anchor="middle" textLength="7" lengthAdjust="spacingAndGlyphs" stroke="#505050" stroke-width="0.12">1.5</text>
<text x="257" y="610.4" font-size="6.7" fill="#e25a9e" text-anchor="middle" textLength="7.7" lengthAdjust="spacingAndGlyphs" stroke="#e25a9e" stroke-width="0.12">0.3</text>
<text x="208.4" y="642.5" font-size="8.5" fill="#333132" textLength="21.2" lengthAdjust="spacingAndGlyphs" stroke="#333132" stroke-width="0.2">HL-60</text>
<text x="291.9" y="580.4" font-size="8" fill="#333132" textLength="21.66" lengthAdjust="spacingAndGlyphs" transform="rotate(-45 291.9 580.4)" stroke="#333132" stroke-width="0.2">Control</text>
<text x="306.3" y="580.4" font-size="8" fill="#333132" textLength="31.49" lengthAdjust="spacingAndGlyphs" transform="rotate(-45 306.3 580.4)" stroke="#333132" stroke-width="0.2">Trametinib</text>
<text x="320.7" y="580.4" font-size="8" fill="#333132" textLength="32.88" lengthAdjust="spacingAndGlyphs" transform="rotate(-45 320.7 580.4)" stroke="#333132" stroke-width="0.2">Venetoclax</text>
<text x="335.1" y="580.4" font-size="8" fill="#e25a9e" textLength="21.66" lengthAdjust="spacingAndGlyphs" transform="rotate(-45 335.1 580.4)" stroke="#e25a9e" stroke-width="0.2">Combo</text>
<rect x="282.5" y="583" width="56" height="7.6" fill="#e6e6e6"/>
<rect x="283.5" y="584" width="54" height="5.6" fill="#e0e0e0"/>
<g filter="url(#bb)">
<rect x="283.34" y="585.64" width="12.32" height="2.32" rx="1.16" fill="#848484"/>
<rect x="297.34" y="585.64" width="12.32" height="2.32" rx="1.16" fill="#8e8e8e"/>
<rect x="311.34" y="585.64" width="12.32" height="2.32" rx="1.16" fill="#8e8e8e"/>
<rect x="325.34" y="585.64" width="12.32" height="2.32" rx="1.16" fill="#a3a3a3"/>
</g>
<rect x="283.05" y="583.55" width="54.9" height="6.5" fill="none" stroke="#303030" stroke-width="1.1"/>
<rect x="282.5" y="597" width="56" height="7.8" fill="#e6e6e6"/>
<rect x="283.5" y="598" width="54" height="5.8" fill="#e0e0e0"/>
<g filter="url(#bb)">
<rect x="283.34" y="599.45" width="12.32" height="2.9" rx="1.45" fill="#1e1e1e"/>
<rect x="311.34" y="599.6" width="12.32" height="2.61" rx="1.3" fill="#3d3d3d"/>
</g>
<rect x="283.05" y="597.55" width="54.9" height="6.7" fill="none" stroke="#303030" stroke-width="1.1"/>
<rect x="282.5" y="611.2" width="56" height="7.8" fill="#e6e6e6"/>
<rect x="283.5" y="612.2" width="54" height="5.8" fill="#e0e0e0"/>
<g filter="url(#bb)">
<rect x="283.34" y="614.09" width="12.32" height="2.03" rx="1.01" fill="#848484"/>
<rect x="296.95" y="614.04" width="13.09" height="2.9" rx="1.45" fill="#333333"/>
<rect x="311.34" y="614.09" width="12.32" height="2.03" rx="1.01" fill="#848484"/>
<rect x="326.11" y="614.23" width="10.78" height="1.74" rx="0.87" fill="#999999"/>
</g>
<rect x="283.05" y="611.75" width="54.9" height="6.7" fill="none" stroke="#303030" stroke-width="1.1"/>
<rect x="282.5" y="624.8" width="56" height="7.4" fill="#e6e6e6"/>
<rect x="283.5" y="625.8" width="54" height="5.4" fill="#e0e0e0"/>
<g filter="url(#bb)">
<rect x="282.78" y="627.77" width="13.44" height="1.45" rx="0.72" fill="#999999"/>
<rect x="296.78" y="627.77" width="13.44" height="1.45" rx="0.72" fill="#999999"/>
<rect x="310.78" y="627.77" width="13.44" height="1.45" rx="0.72" fill="#999999"/>
<rect x="324.78" y="627.77" width="13.44" height="1.45" rx="0.72" fill="#a3a3a3"/>
</g>
<rect x="283.05" y="625.35" width="54.9" height="6.3" fill="none" stroke="#303030" stroke-width="1.1"/>
<text x="289.8" y="595.6" font-size="6.7" fill="#505050" text-anchor="middle" textLength="7" lengthAdjust="spacingAndGlyphs" stroke="#505050" stroke-width="0.12">1.0</text>
<text x="303.8" y="595.6" font-size="6.7" fill="#505050" text-anchor="middle" textLength="7.7" lengthAdjust="spacingAndGlyphs" stroke="#505050" stroke-width="0.12">0.8</text>
<text x="317.8" y="595.6" font-size="6.7" fill="#505050" text-anchor="middle" textLength="7.7" lengthAdjust="spacingAndGlyphs" stroke="#505050" stroke-width="0.12">0.7</text>
<text x="331.8" y="595.6" font-size="6.7" fill="#e25a9e" text-anchor="middle" textLength="7.7" lengthAdjust="spacingAndGlyphs" stroke="#e25a9e" stroke-width="0.12">0.6</text>
<text x="289.8" y="610.4" font-size="6.7" fill="#505050" text-anchor="middle" textLength="7" lengthAdjust="spacingAndGlyphs" stroke="#505050" stroke-width="0.12">1.0</text>
<text x="303.8" y="610.4" font-size="6.7" fill="#505050" text-anchor="middle" textLength="7.7" lengthAdjust="spacingAndGlyphs" stroke="#505050" stroke-width="0.12">0.0</text>
<text x="317.8" y="610.4" font-size="6.7" fill="#505050" text-anchor="middle" textLength="7.7" lengthAdjust="spacingAndGlyphs" stroke="#505050" stroke-width="0.12">0.7</text>
<text x="331.8" y="610.4" font-size="6.7" fill="#e25a9e" text-anchor="middle" textLength="7.7" lengthAdjust="spacingAndGlyphs" stroke="#e25a9e" stroke-width="0.12">0.0</text>
<text x="283.2" y="642.5" font-size="8.5" fill="#333132" textLength="27.5" lengthAdjust="spacingAndGlyphs" stroke="#333132" stroke-width="0.2">MV4-11</text>
<text x="369.9" y="580.4" font-size="8" fill="#333132" textLength="21.66" lengthAdjust="spacingAndGlyphs" transform="rotate(-45 369.9 580.4)" stroke="#333132" stroke-width="0.2">Control</text>
<text x="384.3" y="580.4" font-size="8" fill="#333132" textLength="31.49" lengthAdjust="spacingAndGlyphs" transform="rotate(-45 384.3 580.4)" stroke="#333132" stroke-width="0.2">Trametinib</text>
<text x="398.7" y="580.4" font-size="8" fill="#333132" textLength="32.88" lengthAdjust="spacingAndGlyphs" transform="rotate(-45 398.7 580.4)" stroke="#333132" stroke-width="0.2">Venetoclax</text>
<text x="413.1" y="580.4" font-size="8" fill="#e25a9e" textLength="21.66" lengthAdjust="spacingAndGlyphs" transform="rotate(-45 413.1 580.4)" stroke="#e25a9e" stroke-width="0.2">Combo</text>
<rect x="360.5" y="583" width="56" height="7.6" fill="#e6e6e6"/>
<rect x="361.5" y="584" width="54" height="5.6" fill="#e0e0e0"/>
<g filter="url(#bb)">
<rect x="360.95" y="585.35" width="13.09" height="2.9" rx="1.45" fill="#7a7a7a"/>
<rect x="374.95" y="585.5" width="13.09" height="2.61" rx="1.3" fill="#8e8e8e"/>
<rect x="388.95" y="585.2" width="13.09" height="3.19" rx="1.5" fill="#474747"/>
<rect x="402.95" y="585.5" width="13.09" height="2.61" rx="1.3" fill="#8e8e8e"/>
</g>
<rect x="361.05" y="583.55" width="54.9" height="6.5" fill="none" stroke="#303030" stroke-width="1.1"/>
<rect x="360.5" y="597" width="56" height="7.8" fill="#e6e6e6"/>
<rect x="361.5" y="598" width="54" height="5.8" fill="#e0e0e0"/>
<g filter="url(#bb)">
<rect x="361.34" y="599.6" width="12.32" height="2.61" rx="1.3" fill="#282828"/>
<rect x="375.34" y="599.88" width="12.32" height="2.03" rx="1.01" fill="#a3a3a3"/>
<rect x="389.34" y="599.45" width="12.32" height="2.9" rx="1.45" fill="#1e1e1e"/>
<rect x="403.34" y="599.88" width="12.32" height="2.03" rx="1.01" fill="#999999"/>
</g>
<rect x="361.05" y="597.55" width="54.9" height="6.7" fill="none" stroke="#303030" stroke-width="1.1"/>
<rect x="360.5" y="611.2" width="56" height="7.8" fill="#e6e6e6"/>
<rect x="361.5" y="612.2" width="54" height="5.8" fill="#e0e0e0"/>
<g filter="url(#bb)">
<rect x="360.95" y="614.19" width="13.09" height="2.61" rx="1.3" fill="#474747"/>
<rect x="374.95" y="614.19" width="13.09" height="2.61" rx="1.3" fill="#3d3d3d"/>
<rect x="388.95" y="614.19" width="13.09" height="2.61" rx="1.3" fill="#3d3d3d"/>
<rect x="402.95" y="613.36" width="13.09" height="3.48" rx="1.5" fill="#1e1e1e"/>
</g>
<rect x="361.05" y="611.75" width="54.9" height="6.7" fill="none" stroke="#303030" stroke-width="1.1"/>
<rect x="360.5" y="624.8" width="56" height="7.4" fill="#e6e6e6"/>
<rect x="361.5" y="625.8" width="54" height="5.4" fill="#e0e0e0"/>
<g filter="url(#bb)">
<rect x="360.78" y="627.77" width="13.44" height="1.45" rx="0.72" fill="#848484"/>
<rect x="374.78" y="627.77" width="13.44" height="1.45" rx="0.72" fill="#8e8e8e"/>
<rect x="388.78" y="627.77" width="13.44" height="1.45" rx="0.72" fill="#8e8e8e"/>
<rect x="402.78" y="627.77" width="13.44" height="1.45" rx="0.72" fill="#848484"/>
</g>
<rect x="361.05" y="625.35" width="54.9" height="6.3" fill="none" stroke="#303030" stroke-width="1.1"/>
<text x="367.8" y="595.6" font-size="6.7" fill="#505050" text-anchor="middle" textLength="7" lengthAdjust="spacingAndGlyphs" stroke="#505050" stroke-width="0.12">1.0</text>
<text x="381.8" y="595.6" font-size="6.7" fill="#505050" text-anchor="middle" textLength="7.7" lengthAdjust="spacingAndGlyphs" stroke="#505050" stroke-width="0.12">0.7</text>
<text x="395.8" y="595.6" font-size="6.7" fill="#505050" text-anchor="middle" textLength="7" lengthAdjust="spacingAndGlyphs" stroke="#505050" stroke-width="0.12">1.8</text>
<text x="409.8" y="595.6" font-size="6.7" fill="#e25a9e" text-anchor="middle" textLength="7.7" lengthAdjust="spacingAndGlyphs" stroke="#e25a9e" stroke-width="0.12">0.6</text>
<text x="367.8" y="610.4" font-size="6.7" fill="#505050" text-anchor="middle" textLength="7" lengthAdjust="spacingAndGlyphs" stroke="#505050" stroke-width="0.12">1.0</text>
<text x="381.8" y="610.4" font-size="6.7" fill="#505050" text-anchor="middle" textLength="7.7" lengthAdjust="spacingAndGlyphs" stroke="#505050" stroke-width="0.12">0.3</text>
<text x="395.8" y="610.4" font-size="6.7" fill="#505050" text-anchor="middle" textLength="7.7" lengthAdjust="spacingAndGlyphs" stroke="#505050" stroke-width="0.12">0.7</text>
<text x="409.8" y="610.4" font-size="6.7" fill="#e25a9e" text-anchor="middle" textLength="7.7" lengthAdjust="spacingAndGlyphs" stroke="#e25a9e" stroke-width="0.12">0.1</text>
<text x="361.2" y="642.5" font-size="8.5" fill="#333132" textLength="36.3" lengthAdjust="spacingAndGlyphs" stroke="#333132" stroke-width="0.2">MOLM-13</text>
<text x="443.8" y="580.4" font-size="8" fill="#333132" textLength="21.66" lengthAdjust="spacingAndGlyphs" transform="rotate(-45 443.8 580.4)" stroke="#333132" stroke-width="0.2">Control</text>
<text x="458.2" y="580.4" font-size="8" fill="#333132" textLength="31.49" lengthAdjust="spacingAndGlyphs" transform="rotate(-45 458.2 580.4)" stroke="#333132" stroke-width="0.2">Trametinib</text>
<text x="472.6" y="580.4" font-size="8" fill="#333132" textLength="32.88" lengthAdjust="spacingAndGlyphs" transform="rotate(-45 472.6 580.4)" stroke="#333132" stroke-width="0.2">Venetoclax</text>
<text x="487" y="580.4" font-size="8" fill="#e25a9e" textLength="21.66" lengthAdjust="spacingAndGlyphs" transform="rotate(-45 487 580.4)" stroke="#e25a9e" stroke-width="0.2">Combo</text>
<rect x="434.4" y="583" width="56" height="7.6" fill="#e6e6e6"/>
<rect x="435.4" y="584" width="54" height="5.6" fill="#e0e0e0"/>
<g filter="url(#bb)">
<rect x="435.24" y="585.64" width="12.32" height="2.32" rx="1.16" fill="#707070"/>
<rect x="449.24" y="585.78" width="12.32" height="2.03" rx="1.01" fill="#999999"/>
<rect x="463.24" y="585.35" width="12.32" height="2.9" rx="1.45" fill="#333333"/>
<rect x="477.24" y="585.78" width="12.32" height="2.03" rx="1.01" fill="#a3a3a3"/>
</g>
<rect x="434.95" y="583.55" width="54.9" height="6.5" fill="none" stroke="#303030" stroke-width="1.1"/>
<rect x="434.4" y="597" width="56" height="7.8" fill="#e6e6e6"/>
<rect x="435.4" y="598" width="54" height="5.8" fill="#e0e0e0"/>
<g filter="url(#bb)">
<rect x="434.85" y="598.96" width="13.09" height="2.32" rx="1.16" fill="#848484"/>
<rect x="434.85" y="601.59" width="13.09" height="1.74" rx="0.87" fill="#a3a3a3"/>
<rect x="448.85" y="599.5" width="13.09" height="2.03" rx="1.01" fill="#999999"/>
<rect x="462.85" y="599.06" width="13.09" height="2.9" rx="1.45" fill="#474747"/>
<rect x="477.24" y="600.03" width="12.32" height="1.74" rx="0.87" fill="#c1c1c1"/>
</g>
<rect x="434.95" y="597.55" width="54.9" height="6.7" fill="none" stroke="#303030" stroke-width="1.1"/>
<rect x="434.4" y="611.2" width="56" height="7.8" fill="#e6e6e6"/>
<rect x="435.4" y="612.2" width="54" height="5.8" fill="#e0e0e0"/>
<g filter="url(#bb)">
<rect x="434.85" y="614.58" width="13.09" height="2.61" rx="1.3" fill="#3d3d3d"/>
<rect x="448.85" y="614.58" width="13.09" height="2.61" rx="1.3" fill="#3d3d3d"/>
<rect x="462.85" y="614.72" width="13.09" height="2.32" rx="1.16" fill="#666666"/>
<rect x="476.85" y="614.04" width="13.09" height="2.9" rx="1.45" fill="#333333"/>
</g>
<rect x="434.95" y="611.75" width="54.9" height="6.7" fill="none" stroke="#303030" stroke-width="1.1"/>
<rect x="434.4" y="624.8" width="56" height="7.4" fill="#e6e6e6"/>
<rect x="435.4" y="625.8" width="54" height="5.4" fill="#e0e0e0"/>
<g filter="url(#bb)">
<rect x="434.68" y="628.51" width="13.44" height="1.45" rx="0.72" fill="#666666"/>
<rect x="448.68" y="628.14" width="13.44" height="1.45" rx="0.72" fill="#707070"/>
<rect x="462.68" y="627.77" width="13.44" height="1.45" rx="0.72" fill="#707070"/>
<rect x="476.68" y="627.03" width="13.44" height="1.45" rx="0.72" fill="#666666"/>
</g>
<rect x="434.95" y="625.35" width="54.9" height="6.3" fill="none" stroke="#303030" stroke-width="1.1"/>
<text x="441.7" y="595.6" font-size="6.7" fill="#505050" text-anchor="middle" textLength="7" lengthAdjust="spacingAndGlyphs" stroke="#505050" stroke-width="0.12">1.0</text>
<text x="455.7" y="595.6" font-size="6.7" fill="#505050" text-anchor="middle" textLength="7.7" lengthAdjust="spacingAndGlyphs" stroke="#505050" stroke-width="0.12">0.6</text>
<text x="469.7" y="595.6" font-size="6.7" fill="#505050" text-anchor="middle" textLength="7" lengthAdjust="spacingAndGlyphs" stroke="#505050" stroke-width="0.12">1.4</text>
<text x="483.7" y="595.6" font-size="6.7" fill="#e25a9e" text-anchor="middle" textLength="7.7" lengthAdjust="spacingAndGlyphs" stroke="#e25a9e" stroke-width="0.12">0.3</text>
<text x="441.7" y="610.4" font-size="6.7" fill="#505050" text-anchor="middle" textLength="7" lengthAdjust="spacingAndGlyphs" stroke="#505050" stroke-width="0.12">1.0</text>
<text x="455.7" y="610.4" font-size="6.7" fill="#505050" text-anchor="middle" textLength="7.7" lengthAdjust="spacingAndGlyphs" stroke="#505050" stroke-width="0.12">0.4</text>
<text x="469.7" y="610.4" font-size="6.7" fill="#505050" text-anchor="middle" textLength="7.7" lengthAdjust="spacingAndGlyphs" stroke="#505050" stroke-width="0.12">2.0</text>
<text x="483.7" y="610.4" font-size="6.7" fill="#e25a9e" text-anchor="middle" textLength="7.7" lengthAdjust="spacingAndGlyphs" stroke="#e25a9e" stroke-width="0.12">0.2</text>
<text x="435.1" y="642.5" font-size="8.5" fill="#333132" textLength="38.3" lengthAdjust="spacingAndGlyphs" stroke="#333132" stroke-width="0.2">OCI-AML3</text>
</svg>
</body></html>
